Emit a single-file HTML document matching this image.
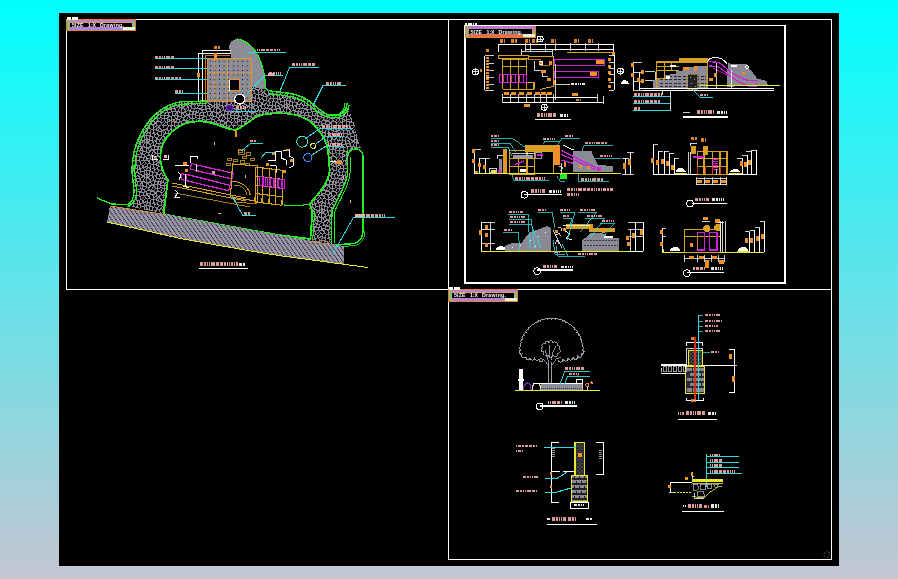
<!DOCTYPE html>
<html><head><meta charset="utf-8"><style>
html,body{margin:0;padding:0;width:898px;height:579px;overflow:hidden;}
body{background:linear-gradient(to bottom,#00ffff 0%,#64e2e9 50%,#c4c6d2 100%);font-family:"Liberation Sans",sans-serif;}
svg{display:block;position:absolute;left:0;top:0;will-change:transform;}
</style></head><body>
<svg width="898" height="579" viewBox="0 0 898 579" shape-rendering="crispEdges" font-family="Liberation Sans, sans-serif"><defs>
<pattern id="cob" width="35" height="35" patternUnits="userSpaceOnUse"><rect width="35" height="35" fill="#8a8694"/><path d="M-4.3,0.3 -3.9,0.8 -1.6,0.3 -0.8,-1.2 -3.5,-2.0ZM-1.6,2.8 -1.2,2.4 -1.7,1.3 -3.6,1.8 -3.4,3.0ZM-3.1,3.9 -3.5,4.3 -2.7,6.4 -2.2,6.5 -0.4,5.9 -0.7,3.8ZM-2.3,9.8 -1.4,10.4 -0.7,10.0 0.9,7.6 0.8,7.1 0.1,6.8 -1.9,7.4ZM-3.2,11.6 -2.8,13.6 0.2,13.3 -1.4,11.3 -2.6,11.1ZM-3.0,15.6 0.3,16.7 0.8,14.7 0.5,14.4 -2.7,14.5ZM-2.3,16.9 -2.8,17.2 -2.9,20.0 -1.6,20.3 -0.3,17.7ZM-3.1,21.2 -3.5,21.6 -3.4,24.2 -2.3,25.1 0.2,24.4 -0.7,21.7 -1.4,21.3ZM-2.5,28.0 -2.2,28.5 -0.8,28.5 -0.9,26.0 -2.1,26.1ZM-1.8,29.5 -2.2,29.8 -2.6,32.0 -0.5,32.8 0.2,31.7 -0.3,29.9ZM-4.3,35.3 -3.9,35.8 -1.6,35.3 -0.8,33.8 -3.5,33.0ZM0.4,-1.7 0.5,-1.2 3.3,0.6 4.5,-0.8 3.7,-3.1 1.1,-2.7ZM5.1,-3.7 4.8,-3.3 5.3,-1.5 6.5,-1.4 6.4,-3.7ZM7.8,-3.8 7.3,-3.5 7.6,-1.7 8.6,-1.4 9.0,-3.4ZM9.7,-1.2 10.3,-0.3 11.9,-0.2 12.6,-2.2 10.2,-3.4ZM16.6,-0.8 16.5,-1.4 14.3,-2.9 13.6,-2.2 12.9,0.3 13.4,0.6 15.4,0.4ZM18.0,-1.8 18.1,-1.3 19.4,-1.0 21.2,-2.0 21.7,-3.8 21.1,-4.3 19.1,-4.1ZM23.1,-3.2 22.5,-3.1 22.1,-1.7 23.6,0.1 24.2,-0.3 24.4,-2.4ZM26.9,-2.2 26.6,-2.6 25.4,-2.3 25.3,-0.2 27.0,0.0ZM27.9,-3.1 28.0,0.0 29.7,0.2 30.3,-2.2 28.5,-3.3ZM30.7,0.3 31.1,0.8 33.4,0.3 34.2,-1.2 31.5,-2.0ZM-0.2,2.7 0.3,2.9 2.3,1.3 0.2,-0.3 -0.7,0.8ZM1.8,6.6 2.5,6.3 4.0,2.7 3.5,1.9 0.5,4.0 0.6,5.9ZM2.0,8.7 1.3,8.5 0.6,9.7 0.7,10.1 2.3,10.3ZM0.7,11.1 0.3,11.7 1.6,12.6 2.0,11.5ZM2.3,14.5 1.8,14.8 1.5,16.6 3.1,17.6 4.6,16.1 4.2,15.4ZM-0.4,20.2 0.0,20.8 2.7,19.9 2.7,18.6 0.9,17.7ZM0.7,21.5 0.4,22.0 1.5,23.7 4.1,21.4 3.3,20.7ZM0.2,28.0 0.8,28.4 2.6,27.1 2.4,26.4 1.1,25.1 0.2,25.7ZM3.3,28.4 2.8,28.2 0.7,29.5 1.0,31.2 3.8,30.8ZM0.4,33.3 0.5,33.8 3.3,35.6 4.5,34.2 3.7,31.9 1.1,32.3ZM4.4,1.0 4.9,2.2 6.5,2.4 6.4,-0.4 5.3,-0.3ZM5.2,3.2 4.7,3.4 3.6,6.2 6.1,6.8 6.4,6.4 6.4,3.8ZM3.2,7.3 2.7,7.7 3.4,10.4 5.6,10.7 6.7,8.0ZM2.4,13.1 2.6,13.7 4.4,14.4 5.9,12.1 5.5,11.7 3.4,11.5ZM5.5,15.7 6.0,16.0 8.4,14.8 8.1,13.6 6.6,13.0 5.2,14.9ZM3.9,19.8 5.0,20.4 6.4,19.1 5.4,17.1 3.7,18.4ZM2.3,24.3 2.2,24.9 3.0,25.3 5.2,23.3 5.2,22.8 4.5,22.4ZM3.5,26.6 3.9,26.8 6.7,26.2 7.2,24.4 5.9,23.8 3.5,26.1ZM6.1,30.1 6.6,27.4 4.3,27.7 4.8,30.1ZM5.1,31.3 4.8,31.7 5.3,33.5 6.5,33.6 6.4,31.3ZM7.9,-0.5 7.5,-0.1 7.5,2.1 7.9,2.4 9.4,0.2 9.0,-0.4ZM7.6,3.5 7.3,3.8 7.3,6.9 7.7,7.3 10.1,6.1 9.8,5.0 8.4,3.5ZM10.5,7.6 10.0,7.4 8.5,8.3 10.3,10.5 11.6,9.9ZM6.8,11.8 8.3,12.5 9.3,11.2 7.8,9.1 7.3,9.3 6.5,11.0ZM6.7,16.6 6.5,17.1 7.4,18.4 9.9,17.4 10.2,16.3 9.1,15.5ZM7.9,19.1 7.8,19.8 9.0,20.7 10.2,18.8 9.7,18.5ZM5.5,21.1 5.4,21.6 6.3,22.8 7.8,23.7 8.7,23.3 8.7,21.8 7.0,20.3ZM7.8,26.2 8.0,26.7 9.9,27.6 10.7,24.5 9.3,24.1 8.4,24.5ZM9.1,30.5 9.6,30.3 9.9,29.0 7.8,27.8 7.3,30.0ZM7.8,31.2 7.3,31.5 7.6,33.3 8.6,33.6 9.0,31.6ZM10.5,0.6 9.1,2.7 10.2,3.9 12.6,1.4 12.1,0.8ZM10.9,4.7 11.3,5.8 13.4,5.0 12.7,3.0ZM11.6,6.6 11.3,7.2 12.8,10.0 13.3,10.1 14.0,6.4 13.6,6.2ZM9.6,14.5 10.7,14.9 12.9,11.5 12.8,11.1 10.2,11.6 9.1,13.2ZM11.7,15.0 11.7,15.5 12.2,15.6 14.9,13.6 14.9,13.1 13.6,12.2ZM14.6,18.3 14.5,17.6 12.0,16.6 11.1,16.8 11.2,18.5 12.7,19.6ZM12.6,23.5 13.0,23.0 12.5,20.7 10.9,19.7 9.6,21.7 9.7,23.1 11.4,23.6ZM10.9,28.1 11.2,28.6 13.4,28.1 13.4,25.0 13.0,24.4 11.7,24.7ZM14.1,29.5 13.7,29.1 11.1,29.5 10.6,30.5 13.2,31.8 14.0,31.1ZM10.5,31.6 9.9,31.9 9.7,34.0 10.3,34.7 11.9,34.8 12.6,32.7ZM13.9,1.5 13.5,2.0 14.3,4.6 14.8,4.9 16.2,2.7 15.4,1.4ZM17.3,6.4 17.8,6.3 18.8,4.3 17.2,3.5 15.7,5.4ZM15.5,6.5 14.9,6.8 14.6,8.9 14.9,9.4 17.4,8.3 17.2,7.4ZM14.4,10.6 14.2,11.2 16.2,13.0 16.8,12.9 17.2,9.8ZM17.1,15.6 17.0,14.4 16.0,13.9 13.5,16.0 15.7,17.1ZM13.6,21.7 14.2,22.0 16.4,20.6 15.8,18.8 15.4,18.8 13.5,20.4ZM15.7,24.4 17.7,21.9 17.6,21.4 17.1,21.3 13.8,23.4 14.1,24.2ZM16.0,25.3 14.4,25.5 14.7,28.6 16.8,28.4 17.7,26.8 17.5,26.1ZM16.9,29.4 15.0,29.8 14.9,31.2 17.1,32.7 18.0,30.5ZM15.3,35.5 16.6,33.8 14.3,32.1 13.6,32.8 12.9,35.3 13.3,35.6ZM19.3,3.2 19.8,2.8 18.9,0.1 17.4,-0.4 16.4,1.2 17.2,2.5ZM20.6,4.5 19.9,4.3 19.1,5.8 19.2,6.3 21.0,6.4ZM18.4,8.2 19.9,8.9 20.8,7.7 18.6,7.2ZM17.8,12.8 18.3,13.3 20.1,12.2 20.1,10.4 19.7,9.8 18.4,9.7ZM19.8,16.3 20.3,16.2 21.6,13.9 21.5,13.3 20.5,13.0 18.1,14.5 18.2,15.3ZM16.6,17.6 17.5,20.3 18.7,20.9 20.9,19.6 20.7,18.2 18.0,16.3ZM17.0,24.3 17.1,24.9 17.9,25.0 19.1,23.3 18.9,22.6 18.4,22.6ZM18.6,25.6 18.8,26.2 20.9,26.5 21.7,25.7 19.8,24.1ZM17.8,28.6 18.9,30.0 20.9,29.6 20.6,27.4 18.6,27.2ZM18.0,33.2 18.1,33.7 19.4,34.0 21.2,33.0 21.7,31.2 21.1,30.7 19.1,30.9ZM20.7,2.7 21.1,2.9 22.3,2.6 22.8,1.0 21.4,-0.9 19.9,-0.0ZM21.7,3.7 21.4,4.2 22.2,6.7 23.0,7.0 23.8,4.2 22.7,3.5ZM21.0,9.1 21.3,9.7 23.8,9.6 24.2,9.0 23.3,8.1 22.3,7.8ZM22.6,12.8 24.1,12.7 24.1,10.6 21.1,10.8 21.1,12.1ZM21.0,16.7 21.1,17.2 21.5,17.3 24.1,15.5 24.0,13.9 22.7,13.8ZM21.9,18.2 21.9,19.4 22.8,19.9 25.2,16.7 24.4,16.3ZM20.0,22.9 22.3,24.9 23.6,24.1 23.2,21.5 21.6,20.4 19.8,21.6ZM22.9,25.7 22.8,26.4 24.5,28.0 25.0,28.0 24.2,25.3ZM22.4,27.3 21.8,27.4 21.8,29.9 22.5,30.6 24.0,28.9ZM23.1,31.8 22.5,31.9 22.1,33.3 23.6,35.1 24.2,34.7 24.4,32.6ZM24.9,0.6 23.7,1.1 23.3,2.7 24.6,3.4 26.1,3.5 26.8,1.3ZM26.8,6.8 26.2,4.5 24.7,4.6 24.0,7.3 24.5,8.0ZM25.0,9.8 25.4,10.3 28.1,10.0 27.7,7.8 27.2,7.7 25.2,8.9ZM28.5,11.7 28.2,11.0 25.4,11.2 25.0,12.5 25.4,12.8 27.1,12.8ZM25.1,15.2 26.2,16.4 26.9,16.7 27.5,14.2 27.0,13.7 25.3,13.8ZM25.9,17.6 24.0,20.2 24.4,20.4 27.1,19.5 26.9,17.9ZM24.5,23.7 24.9,24.0 26.3,23.8 28.2,21.0 28.1,20.6 27.6,20.3 24.3,21.5ZM27.6,28.4 28.1,28.1 28.1,26.1 26.4,24.8 25.4,24.9 25.2,25.4 26.2,27.9ZM27.6,30.9 27.7,29.5 26.0,28.8 25.0,29.3 23.8,30.8 25.0,31.7 27.0,31.5ZM26.9,32.8 26.6,32.4 25.4,32.7 25.3,34.8 27.0,35.0ZM27.3,3.3 27.6,3.8 30.3,3.4 30.4,1.5 29.9,1.2 28.0,1.2ZM27.7,6.6 28.3,7.0 31.0,6.4 30.6,4.5 27.7,4.8ZM29.1,7.8 28.8,8.2 29.4,10.3 29.9,10.9 31.1,11.1 31.7,10.3 32.1,7.3ZM28.2,13.7 30.7,14.7 31.3,14.1 30.8,12.2 29.9,11.8 28.2,13.1ZM28.8,15.0 28.3,15.2 28.4,16.3 29.5,15.6ZM28.1,17.6 28.3,19.5 29.2,20.3 31.0,20.5 31.2,16.2 30.7,16.2ZM30.4,24.1 30.6,21.6 29.2,21.2 27.3,24.3 28.7,25.2ZM32.0,26.0 30.9,25.0 29.2,26.0 29.1,28.1 31.5,28.1ZM28.7,30.5 31.2,32.1 31.9,29.2 29.0,29.3ZM28.5,31.7 27.8,32.1 28.0,35.0 29.6,35.2 30.3,32.9ZM33.5,1.6 33.1,1.3 31.5,1.7 31.4,2.8 33.5,2.8ZM31.9,3.9 31.5,4.3 32.3,6.4 32.8,6.5 34.6,5.9 34.3,3.8ZM35.3,6.8 33.1,7.5 32.9,10.2 33.7,10.4 34.3,10.0 35.9,7.5ZM34.9,13.5 35.2,12.9 33.6,11.3 32.4,11.1 31.7,11.7 32.2,13.6ZM35.1,16.7 35.6,16.4 35.6,14.5 32.0,14.7 32.1,15.7ZM33.3,20.4 34.7,17.7 32.5,16.8 32.2,17.2 32.1,20.1ZM31.9,21.2 31.5,21.6 31.6,24.2 32.7,25.1 35.2,24.4 34.3,21.7 33.6,21.3ZM32.5,28.0 32.8,28.5 34.2,28.5 34.1,26.0 32.9,26.1ZM34.7,30.0 32.9,29.6 32.5,32.1 34.7,32.7 35.2,31.7ZM30.7,35.3 31.1,35.8 33.4,35.3 34.2,33.8 31.5,33.0ZM-0.2,37.7 0.3,37.9 2.3,36.3 0.2,34.7 -0.7,35.8ZM6.6,35.0 6.2,34.6 5.2,34.8 4.4,36.2 4.9,37.1 6.5,37.4ZM7.9,34.5 7.5,34.9 7.5,37.1 7.9,37.4 9.4,35.2 9.0,34.6ZM12.5,36.7 12.1,35.8 10.3,35.7 9.1,37.9 10.4,38.9ZM13.9,36.5 13.5,37.0 14.3,39.6 14.8,39.9 16.2,37.7 15.4,36.4ZM17.1,37.4 19.3,38.2 19.7,38.0 18.8,35.0 17.5,34.6 16.4,35.8ZM20.7,37.7 21.1,37.9 22.3,37.6 22.8,36.0 21.4,34.1 19.9,35.0ZM24.9,35.6 23.7,36.1 23.3,37.7 24.6,38.4 26.1,38.5 26.8,36.3ZM27.3,38.3 27.6,38.8 30.3,38.4 30.4,36.5 29.9,36.2 28.0,36.2ZM33.5,36.6 33.1,36.3 31.5,36.7 31.4,37.8 33.5,37.8ZM35.4,-1.7 35.5,-1.2 38.3,0.6 39.5,-0.8 38.7,-3.1 36.1,-2.7ZM35.4,-0.2 34.8,-0.2 34.3,0.8 35.1,3.0 37.3,1.3ZM36.8,6.6 37.5,6.3 39.0,2.7 38.5,1.9 35.5,4.0 35.6,5.9ZM37.0,8.7 36.3,8.5 35.6,9.7 35.7,10.1 37.3,10.3ZM35.7,11.1 35.3,11.7 36.6,12.6 37.0,11.5ZM37.3,14.5 36.8,14.8 36.5,16.6 38.1,17.6 39.6,16.1 39.2,15.4ZM34.6,20.2 35.0,20.8 37.7,19.9 37.7,18.6 35.9,17.7ZM36.1,23.5 36.7,23.6 39.0,21.7 39.0,21.1 38.2,20.7 35.6,21.6ZM35.2,28.0 35.8,28.4 37.6,27.1 37.4,26.4 36.1,25.1 35.2,25.7ZM38.1,28.2 35.6,29.9 36.1,31.3 38.9,30.8ZM35.4,33.3 35.5,33.8 38.3,35.6 39.5,34.2 38.7,31.9 36.1,32.3ZM34.8,37.7 35.3,37.9 37.3,36.3 35.2,34.7 34.3,35.8Z" fill="#000"/></pattern>
<pattern id="hatch" width="4.2" height="6" patternUnits="userSpaceOnUse"><rect width="4.2" height="6" fill="#9e9aac"/><line x1="0" y1="0" x2="4.2" y2="6" stroke="#000" stroke-width="1.1" stroke-dasharray="1.1 0.73" shape-rendering="auto"/></pattern>
<pattern id="paved" width="4.6" height="4.6" patternUnits="userSpaceOnUse" x="208" y="59"><rect width="4.6" height="4.6" fill="#8c8c96"/><rect x="1.7" y="1.7" width="1.3" height="1.3" fill="#000"/></pattern>
<pattern id="hatch2" width="2.5" height="2.5" patternUnits="userSpaceOnUse" patternTransform="rotate(45)"><rect width="2.5" height="2.5" fill="#555558"/><line x1="0" y1="0" x2="0" y2="2.5" stroke="#111" stroke-width="1"/><line x1="0" y1="0" x2="2.5" y2="0" stroke="#111" stroke-width="0.6"/></pattern>
</defs><rect x="59" y="13" width="780" height="553" stroke="none" fill="#000" stroke-width="1" />
<line x1="66.5" y1="19.5" x2="831.5" y2="19.5" stroke="#ffffff" stroke-width="1" />
<line x1="66.5" y1="19.5" x2="66.5" y2="289.5" stroke="#ffffff" stroke-width="1" />
<line x1="66" y1="289.5" x2="832" y2="289.5" stroke="#ffffff" stroke-width="1" />
<line x1="448.5" y1="19.5" x2="448.5" y2="559.5" stroke="#ffffff" stroke-width="1" />
<line x1="831.5" y1="19.5" x2="831.5" y2="559.5" stroke="#ffffff" stroke-width="1" />
<line x1="448" y1="559.5" x2="832" y2="559.5" stroke="#ffffff" stroke-width="1" />
<line x1="465" y1="25" x2="465" y2="284" stroke="#ffffff" stroke-width="2" />
<line x1="785" y1="25" x2="785" y2="284" stroke="#ffffff" stroke-width="2" />
<line x1="464" y1="25.5" x2="786" y2="25.5" stroke="#ffffff" stroke-width="1" />
<line x1="464" y1="283" x2="786" y2="283" stroke="#ffffff" stroke-width="2" />
<circle cx="826.8" cy="554.6" r="3" stroke="#303030" fill="none" stroke-width="0.8"/>
<rect x="66" y="19.2" width="69.5" height="11.4" stroke="none" fill="#e08030" stroke-width="1" />
<rect x="66.8" y="20.0" width="67.9" height="9.8" stroke="none" fill="#90b880" stroke-width="1" />
<rect x="70" y="20.099999999999998" width="64.5" height="2.2" stroke="none" fill="#c080cc" stroke-width="1" />
<rect x="70" y="27.400000000000002" width="53.5" height="2.3" stroke="none" fill="#b084d4" stroke-width="1" />
<rect x="69.8" y="22.4" width="62.5" height="5.0" stroke="none" fill="#d8a060" stroke-width="1" />
<rect x="70.2" y="23.0" width="61.5" height="3.8000000000000007" stroke="none" fill="#000" stroke-width="1" />
<text x="72" y="26.8" fill="#fff" font-size="5.2" font-weight="bold" letter-spacing="0.2">5IZE</text>
<text x="88" y="26.8" fill="#fff" font-size="5.2" font-weight="bold">1:X</text>
<text x="100" y="26.8" fill="#fff" font-size="5.2" font-weight="bold" letter-spacing="0.3">Drawing.</text>
<rect x="122.5" y="27.0" width="12" height="2.8" stroke="none" fill="#e8f4e0" stroke-width="1" />
<line x1="66.8" y1="18.599999999999998" x2="78.5" y2="18.599999999999998" stroke="#f4fff0" stroke-width="3" stroke-dasharray="2 0.6 1.6 0.6 2.2 0.5 1.5 0.6"/>
<rect x="464.5" y="25.5" width="71" height="12.1" stroke="none" fill="#e08030" stroke-width="1" />
<rect x="465.3" y="26.3" width="69.4" height="10.5" stroke="none" fill="#b0a070" stroke-width="1" />
<rect x="468.5" y="26.4" width="66" height="2.2" stroke="none" fill="#b878cc" stroke-width="1" />
<rect x="468.5" y="34.4" width="55" height="2.3" stroke="none" fill="#e07050" stroke-width="1" />
<rect x="468.3" y="28.7" width="64" height="5.699999999999999" stroke="none" fill="#d09050" stroke-width="1" />
<rect x="468.7" y="29.3" width="63" height="4.5" stroke="none" fill="#000" stroke-width="1" />
<text x="470.5" y="33.5" fill="#fff" font-size="5.2" font-weight="bold" letter-spacing="0.2">5IZE</text>
<text x="486.5" y="33.5" fill="#fff" font-size="5.2" font-weight="bold">1:X</text>
<text x="498.5" y="33.5" fill="#fff" font-size="5.2" font-weight="bold" letter-spacing="0.3">Drawing.</text>
<rect x="522.5" y="34.0" width="12" height="2.8" stroke="none" fill="#e8f4e0" stroke-width="1" />
<line x1="465.3" y1="24.9" x2="477.0" y2="24.9" stroke="#f4fff0" stroke-width="3" stroke-dasharray="2 0.6 1.6 0.6 2.2 0.5 1.5 0.6"/>
<rect x="448" y="289" width="69.5" height="12.5" stroke="none" fill="#e08030" stroke-width="1" />
<rect x="448.8" y="289.8" width="67.9" height="10.9" stroke="none" fill="#90b880" stroke-width="1" />
<rect x="452" y="289.9" width="64.5" height="2.2" stroke="none" fill="#c080cc" stroke-width="1" />
<rect x="452" y="298.3" width="53.5" height="2.3" stroke="none" fill="#b084d4" stroke-width="1" />
<rect x="451.8" y="292.2" width="62.5" height="6.1" stroke="none" fill="#d8a060" stroke-width="1" />
<rect x="452.2" y="292.8" width="61.5" height="4.9" stroke="none" fill="#000" stroke-width="1" />
<text x="454" y="297.1" fill="#fff" font-size="5.2" font-weight="bold" letter-spacing="0.2">5IZE</text>
<text x="470" y="297.1" fill="#fff" font-size="5.2" font-weight="bold">1:X</text>
<text x="482" y="297.1" fill="#fff" font-size="5.2" font-weight="bold" letter-spacing="0.3">Drawing.</text>
<rect x="504.5" y="297.9" width="12" height="2.8" stroke="none" fill="#e8f4e0" stroke-width="1" />
<line x1="448.8" y1="288.4" x2="460.5" y2="288.4" stroke="#f4fff0" stroke-width="3" stroke-dasharray="2 0.6 1.6 0.6 2.2 0.5 1.5 0.6"/>
<path d="M229,47 C229,43 233,39 237,39 C245,40 252,46 256,52 C261,60 264,70 265,80 L266,89 L258,89 L250,93 L244,97 L236,97 L232,60 Z" stroke="none" fill="#8c8c96" stroke-width="1" />
<path d="M237,39 C245,40 252,46 256,52 C261,60 264,70 265,80 L265.5,86 C266,90 268,91 270,91" stroke="#22ee22" fill="none" stroke-width="1.2" />
<path d="M126.7,204.8 C131,203 134,199 134,192 C134,185 132,178 132,171 C132,135 155,103 185,101.5 L207,101 L240,97 L252,87 L265,89 L270,91 C285,93 300,92 314,105 C320,110 325,115 328,115 L340,115 C344,112 347,108 347,104 L350,113 L355,126 L358,141 L361,148 L348,150 L347.7,172 C347.5,185 336,200 332,211 L331.5,246 L310,241 L166,214 L126.7,206 Z" stroke="none" fill="url(#cob)" stroke-width="1" />
<path d="M97,198 L111.6,203.9 L126.7,204.8 C131,203 134,199 134,192 C134,185 132,178 132,171 C132,135 155,103 185,101.5 L207,101" stroke="#22ee22" fill="none" stroke-width="1.3" />
<path d="M127,207 C133,205 136.5,199 136.5,192 C136.5,185 134.8,178 134.8,171 C134.8,137 157,105.5 185,104 L207,103.5" stroke="#22ee22" fill="none" stroke-width="1.2" />
<path d="M270,91 C285,93 300,92 314,105 C320,110 325,115 330,115 L338,115 C344,113 347,109 347,103" stroke="#22ee22" fill="none" stroke-width="1.5" />
<path d="M268,93.5 C284,95.5 298,95 312,107.5 C318,112.5 324,117.5 330,117.5 L338,117.5 C345,115.5 349,111 349,105" stroke="#22ee22" fill="none" stroke-width="1.2" />
<path d="M344,103 C345,107 344,111 340,113" stroke="#22ee22" fill="none" stroke-width="1" />
<path d="M347.7,150 L347.7,172 C347.5,185 336,200 332,211 L331.5,244" stroke="#22ee22" fill="none" stroke-width="1.2" />
<path d="M350.2,157 L350.2,172 C350,186 338.5,201 334.5,212 L334,244" stroke="#22ee22" fill="none" stroke-width="1" />
<path d="M314.6,211 L312.8,239" stroke="#22ee22" fill="none" stroke-width="1" />
<path d="M297,208 C303,207.5 307,207 311,206" stroke="#22ee22" fill="none" stroke-width="1" />
<path d="M333,245 L355,243.5 C360,241 363,236 363,231 L363,157 C363,152 360,149 355.5,149 C351,149 347.5,152 347.5,157" stroke="#22ee22" fill="none" stroke-width="1.5" />
<path d="M335,247 L356,245.5 C362,243 365,237 365,231" stroke="#22ee22" fill="none" stroke-width="0.8" />
<path d="M160.3,157 C160.3,138 178,120 201.5,121.4 C218,122.5 226,130 234.6,129.7 C245,129 252,114 268,114 C285,112 305,114 316,127 C322,134 327,142 328,150 L329.7,170 C329,180 322,190 313.8,199 L309.7,204 L312.4,211.4 L310.4,239 L280,235.2 L250,230 L163.5,214.3 L167.9,180 C164,174 160.3,166 160.3,157 Z" stroke="#22ee22" fill="#000" stroke-width="1.8" />
<path d="M309.7,204 C300,206 290,206 284,205" stroke="#22ee22" fill="none" stroke-width="1.2" />
<path d="M110,205.7 L164,214 L250,230 L280,235.2 L310,240.5 L344,246 L344,264 L290,257.4 L280,255.7 L180,238.4 L107,222 Z" stroke="none" fill="url(#hatch)" stroke-width="1" />
<path d="M110,206 L164,214.3" stroke="#f0902a" fill="none" stroke-width="0.8" />
<path d="M311,241.5 L330,244" stroke="#f0902a" fill="none" stroke-width="0.8" />
<path d="M107,222 C130,227 160,234 180,238.4 C215,245 250,251 280,255.7 C310,260 340,264 368,267.5" stroke="#e8e830" fill="none" stroke-width="1" />
<rect x="207" y="58" width="44" height="43" stroke="none" fill="url(#paved)" stroke-width="1" />
<rect x="207" y="58" width="44" height="43" stroke="#f0902a" fill="none" stroke-width="1" />
<line x1="214.4" y1="58" x2="214.4" y2="101" stroke="#f0902a" stroke-width="1" stroke-dasharray="3 1.5"/>
<line x1="227.4" y1="58" x2="227.4" y2="101" stroke="#f0902a" stroke-width="1" stroke-dasharray="3 1.5"/>
<line x1="207" y1="72.5" x2="251" y2="72.5" stroke="#f0902a" stroke-width="1" stroke-dasharray="3 1.5"/>
<line x1="207" y1="86" x2="251" y2="86" stroke="#f0902a" stroke-width="0.6" stroke-dasharray="2 2"/>
<rect x="229.3" y="79.7" width="9.7" height="11" stroke="#f0902a" fill="#000" stroke-width="1" />
<line x1="229.3" y1="79.7" x2="229.3" y2="90.7" stroke="#ffffff" stroke-width="1" />
<circle cx="239.8" cy="99.1" r="5" stroke="#ffffff" fill="#000" stroke-width="1.2"/>
<circle cx="229.5" cy="108" r="3" stroke="#7020c0" fill="#401080" stroke-width="1"/>
<line x1="231" y1="111" x2="258" y2="111" stroke="#2fd8e0" stroke-width="1" />
<line x1="236" y1="107" x2="246" y2="107" stroke="#f4aaa8" stroke-width="3.0" stroke-dasharray="1.6 0.7 1 0.6 2 0.8" stroke-opacity="0.9"/>
<polyline points="198.2,101 198.2,53.1 230.6,53.1" stroke="#ffffff" stroke-width="1" fill="none" />
<polyline points="202,101 202,50.5 230.6,50.5" stroke="#ffffff" stroke-width="1" fill="none" />
<polyline points="205,101 205,55.5 230,55.5" stroke="#f0902a" stroke-width="0.8" fill="none" />
<rect x="197" y="73" width="3" height="4" stroke="none" fill="#f0902a" stroke-width="1" />
<line x1="214" y1="47" x2="220" y2="47" stroke="#f0902a" stroke-width="3" stroke-dasharray="1.6 0.7 1 0.6 2 0.8" stroke-opacity="0.9"/>
<rect x="214" y="53" width="3" height="7" stroke="none" fill="#f0902a" stroke-width="1" />
<line x1="155" y1="58.7" x2="207" y2="58.7" stroke="#2fd8e0" stroke-width="1" />
<line x1="155" y1="56.900000000000006" x2="175" y2="56.900000000000006" stroke="#f4aaa8" stroke-width="2.75" stroke-dasharray="1.6 0.7 1 0.6 2 0.8" stroke-opacity="0.9"/>
<line x1="155" y1="68.8" x2="207" y2="68.8" stroke="#2fd8e0" stroke-width="1" />
<line x1="155" y1="67.0" x2="175" y2="67.0" stroke="#f4aaa8" stroke-width="2.75" stroke-dasharray="1.6 0.7 1 0.6 2 0.8" stroke-opacity="0.9"/>
<line x1="155" y1="79.8" x2="207" y2="79.8" stroke="#2fd8e0" stroke-width="1" />
<line x1="155" y1="78.0" x2="181" y2="78.0" stroke="#f4aaa8" stroke-width="2.75" stroke-dasharray="1.6 0.7 1 0.6 2 0.8" stroke-opacity="0.9"/>
<line x1="175" y1="93.3" x2="207" y2="93.3" stroke="#2fd8e0" stroke-width="1" />
<line x1="175" y1="91.5" x2="183" y2="91.5" stroke="#f4aaa8" stroke-width="2.75" stroke-dasharray="1.6 0.7 1 0.6 2 0.8" stroke-opacity="0.9"/>
<line x1="247" y1="52.3" x2="286" y2="52.3" stroke="#2fd8e0" stroke-width="1" />
<line x1="256.7" y1="50" x2="280.7" y2="50" stroke="#f4aaa8" stroke-width="2.75" stroke-dasharray="1.6 0.7 1 0.6 2 0.8" stroke-opacity="0.9"/>
<polyline points="247,94 264.7,75.6 282.5,75.6" stroke="#2fd8e0" stroke-width="1" fill="none" />
<line x1="269" y1="73.3" x2="281" y2="73.3" stroke="#f4aaa8" stroke-width="2.75" stroke-dasharray="1.6 0.7 1 0.6 2 0.8" stroke-opacity="0.9"/>
<rect x="268" y="73" width="6" height="2.5" stroke="none" fill="#f4aaa8" stroke-width="1" />
<polyline points="280,91 289.7,67 318.7,67" stroke="#2fd8e0" stroke-width="1" fill="none" />
<line x1="292" y1="64.7" x2="316" y2="64.7" stroke="#f4aaa8" stroke-width="2.75" stroke-dasharray="1.6 0.7 1 0.6 2 0.8" stroke-opacity="0.9"/>
<polyline points="313.2,105 322.9,85.6 346.4,85.6" stroke="#2fd8e0" stroke-width="1" fill="none" />
<line x1="326" y1="83.3" x2="342" y2="83.3" stroke="#f4aaa8" stroke-width="2.75" stroke-dasharray="1.6 0.7 1 0.6 2 0.8" stroke-opacity="0.9"/>
<line x1="320" y1="128.4" x2="353.3" y2="128.4" stroke="#2fd8e0" stroke-width="1" />
<line x1="322" y1="126.2" x2="351.3" y2="126.2" stroke="#f4aaa8" stroke-width="2.75" stroke-dasharray="1.6 0.7 1 0.6 2 0.8" stroke-opacity="0.9"/>
<line x1="325.6" y1="136.7" x2="343.6" y2="136.7" stroke="#2fd8e0" stroke-width="1" />
<line x1="327.6" y1="134.5" x2="341.6" y2="134.5" stroke="#f4aaa8" stroke-width="2.75" stroke-dasharray="1.6 0.7 1 0.6 2 0.8" stroke-opacity="0.9"/>
<line x1="325.6" y1="146.4" x2="343.6" y2="146.4" stroke="#2fd8e0" stroke-width="1" />
<line x1="327.6" y1="144.20000000000002" x2="341.6" y2="144.20000000000002" stroke="#f4aaa8" stroke-width="2.75" stroke-dasharray="1.6 0.7 1 0.6 2 0.8" stroke-opacity="0.9"/>
<circle cx="302.2" cy="141.7" r="5.5" stroke="#40e0c0" fill="none" stroke-width="1"/>
<polyline points="305,139 320,128.4" stroke="#2fd8e0" stroke-width="1" fill="none" />
<circle cx="313.2" cy="145.8" r="2.5" stroke="#e8e830" fill="none" stroke-width="1"/>
<polyline points="315,144.5 325.6,136.7" stroke="#2fd8e0" stroke-width="1" fill="none" />
<circle cx="307.7" cy="157.4" r="4" stroke="#3090ff" fill="none" stroke-width="1"/>
<polyline points="311,155.5 325.6,146.4" stroke="#2fd8e0" stroke-width="1" fill="none" />
<rect x="335" y="161" width="7" height="2.5" stroke="none" fill="#f0902a" stroke-width="1" />
<line x1="330" y1="161.5" x2="336" y2="161.5" stroke="#ffffff" stroke-width="1" />
<text x="172.5" y="123.5" fill="#f0902a" font-size="7" >*</text>
<polyline points="152.5,154.5 152.5,159.5 157.5,159.5" stroke="#ffffff" stroke-width="1.2" fill="none" />
<rect x="153.5" y="155.5" width="2" height="2" stroke="none" fill="#f4aaa8" stroke-width="1" />
<polyline points="168.8,154.5 168.8,159.5 163,159.5" stroke="#ffffff" stroke-width="1.2" fill="none" />
<rect x="164" y="155" width="2.5" height="2.5" stroke="none" fill="#f4aaa8" stroke-width="1" />
<line x1="197.5" y1="165.1" x2="233.3" y2="173.3" stroke="#d020d8" stroke-width="1.3" />
<line x1="196" y1="170.6" x2="231.5" y2="178.8" stroke="#d020d8" stroke-width="1.3" />
<line x1="186.7" y1="174.4" x2="229.9" y2="185.3" stroke="#d020d8" stroke-width="1.3" />
<line x1="186.7" y1="180.7" x2="228.7" y2="190.8" stroke="#d020d8" stroke-width="1.3" />
<line x1="233.3" y1="173.3" x2="228.7" y2="190.8" stroke="#d020d8" stroke-width="1.3" />
<polygon points="191.3,163.6 197.5,165.1 196,170.6 190.5,169" stroke="#d020d8" stroke-width="1.1" fill="none" />
<polygon points="181.2,173.7 186.7,174.4 186.7,180.7 181.2,179.5" stroke="#d020d8" stroke-width="1.1" fill="none" />
<line x1="212" y1="172" x2="214.5" y2="172" stroke="#f4aaa8" stroke-width="3" stroke-dasharray="1.6 0.7 1 0.6 2 0.8" stroke-opacity="0.9"/>
<polyline points="172,183 246,198" stroke="#d8a020" stroke-width="1" fill="none" />
<polyline points="172,186 246,201" stroke="#d8a020" stroke-width="1" fill="none" />
<polyline points="175,193 250,207" stroke="#d8a020" stroke-width="0.8" fill="none" />
<polyline points="190.6,162.8 190.6,156.6 197.5,156.6 197.5,158.5" stroke="#ffffff" stroke-width="1" fill="none" />
<polyline points="175,165.1 183,165.1 189,166" stroke="#ffffff" stroke-width="1" fill="none" />
<polyline points="185.1,173.7 185.1,186 182.8,186 189,187.7" stroke="#ffffff" stroke-width="1" fill="none" />
<polyline points="178,172 181,175 179,180" stroke="#ffffff" stroke-width="1" fill="none" />
<polyline points="196.5,164 196.5,171 196,172" stroke="#ffffff" stroke-width="0.8" fill="none" />
<rect x="183" y="162" width="4" height="3" stroke="none" fill="#f0902a" stroke-width="1" />
<rect x="184.5" y="169" width="3" height="3" stroke="none" fill="#f0902a" stroke-width="1" />
<polyline points="175,190 178,193 175,197 180,197" stroke="#ffffff" stroke-width="1" fill="none" />
<line x1="255.5" y1="167.06" x2="255.0" y2="202.0" stroke="#d8a020" stroke-width="1.1" />
<line x1="262.5" y1="167.9" x2="262.0" y2="202.84" stroke="#d8a020" stroke-width="1.1" />
<line x1="269.5" y1="168.74" x2="269.0" y2="203.68" stroke="#d8a020" stroke-width="1.1" />
<line x1="276" y1="169.52" x2="275.5" y2="204.46" stroke="#d8a020" stroke-width="1.1" />
<line x1="282.5" y1="170.3" x2="282.0" y2="205.24" stroke="#d8a020" stroke-width="1.1" />
<line x1="255.5" y1="167.06" x2="282.5" y2="170.3" stroke="#d8a020" stroke-width="1.1" />
<line x1="255.5" y1="176.06" x2="282.5" y2="179.3" stroke="#d8a020" stroke-width="1.1" />
<line x1="255.5" y1="185.06" x2="282.5" y2="188.3" stroke="#d8a020" stroke-width="1.1" />
<line x1="255.5" y1="193.56" x2="282.5" y2="196.8" stroke="#d8a020" stroke-width="1.1" />
<line x1="255.5" y1="202.06" x2="282.5" y2="205.3" stroke="#d8a020" stroke-width="1.1" />
<rect x="259.5" y="176.8" width="2.6" height="9" stroke="#d020d8" fill="none" stroke-width="1" />
<rect x="263.3" y="177.3" width="2.6" height="9" stroke="#d020d8" fill="none" stroke-width="1" />
<rect x="267.1" y="177.8" width="2.6" height="9" stroke="#d020d8" fill="none" stroke-width="1" />
<rect x="270.9" y="178.2" width="2.6" height="9" stroke="#d020d8" fill="none" stroke-width="1" />
<rect x="274.7" y="178.7" width="2.6" height="9" stroke="#d020d8" fill="none" stroke-width="1" />
<rect x="278.5" y="179.1" width="2.6" height="9" stroke="#d020d8" fill="none" stroke-width="1" />
<rect x="282.3" y="179.6" width="2.6" height="9" stroke="#d020d8" fill="none" stroke-width="1" />
<polygon points="232.5,163.9 257.4,166 257.4,201.2 230.5,197" stroke="#d8a020" stroke-width="1.1" fill="none" />
<path d="M231.5,181.5 C241,181 249,187 250.2,195" stroke="#d8a020" fill="none" stroke-width="1.1" />
<path d="M234,185 C241,185 246,189 247,195" stroke="#d8a020" fill="none" stroke-width="0.8" />
<polyline points="230.5,197 236,202 257.4,204" stroke="#d8a020" stroke-width="0.8" fill="none" />
<rect x="238" y="150" width="4" height="2.8" stroke="#d8a020" fill="none" stroke-width="0.8" />
<rect x="242" y="156" width="4" height="2.8" stroke="#d8a020" fill="none" stroke-width="0.8" />
<rect x="246" y="152.5" width="4" height="2.8" stroke="#d8a020" fill="none" stroke-width="0.8" />
<rect x="227" y="158" width="4" height="2.8" stroke="#d8a020" fill="none" stroke-width="0.8" />
<rect x="233" y="159" width="4" height="2.8" stroke="#d8a020" fill="none" stroke-width="0.8" />
<rect x="240" y="160.5" width="4" height="2.8" stroke="#d8a020" fill="none" stroke-width="0.8" />
<rect x="250" y="158" width="4" height="2.8" stroke="#d8a020" fill="none" stroke-width="0.8" />
<rect x="226" y="163" width="4" height="2.8" stroke="#d8a020" fill="none" stroke-width="0.8" />
<rect x="245" y="163" width="4" height="2.8" stroke="#d8a020" fill="none" stroke-width="0.8" />
<rect x="238.5" y="149" width="5.5" height="5" stroke="#d8a020" fill="none" stroke-width="0.8" />
<polyline points="268,160 275,160 275,151 281,151 281,158 286,160 286,165" stroke="#ffffff" stroke-width="1" fill="none" />
<polyline points="283,151 289,150 289,156 293,158 293,166 289,168" stroke="#ffffff" stroke-width="1" fill="none" />
<polyline points="270,165 276,166 276,172" stroke="#ffffff" stroke-width="1" fill="none" />
<rect x="286" y="149" width="2.5" height="2" stroke="none" fill="#f0902a" stroke-width="1" />
<rect x="290" y="159" width="2.5" height="2.5" stroke="none" fill="#f0902a" stroke-width="1" />
<rect x="266" y="163" width="2.5" height="2.5" stroke="none" fill="#f0902a" stroke-width="1" />
<rect x="283" y="170" width="2.5" height="2.5" stroke="none" fill="#f0902a" stroke-width="1" />
<rect x="272" y="153" width="2.5" height="2" stroke="none" fill="#f0902a" stroke-width="1" />
<polyline points="241.9,150.4 251.2,143.2 262.6,143.2" stroke="#2fd8e0" stroke-width="1" fill="none" />
<line x1="250" y1="141" x2="257" y2="141" stroke="#f4aaa8" stroke-width="2.75" stroke-dasharray="1.6 0.7 1 0.6 2 0.8" stroke-opacity="0.9"/>
<polyline points="261,158 266,152 275,152" stroke="#2fd8e0" stroke-width="1" fill="none" />
<polyline points="231.5,195 242.9,215.7 256.4,215.7" stroke="#2fd8e0" stroke-width="1" fill="none" />
<line x1="244" y1="213.5" x2="250" y2="213.5" stroke="#f4aaa8" stroke-width="2.75" stroke-dasharray="1.6 0.7 1 0.6 2 0.8" stroke-opacity="0.9"/>
<rect x="213.5" y="141.5" width="1" height="3" stroke="none" fill="#f4aaa8" stroke-width="1" />
<rect x="244.5" y="174.5" width="1" height="3" stroke="none" fill="#f4aaa8" stroke-width="1" />
<rect x="234.5" y="129.5" width="2.5" height="7" stroke="none" fill="#f0902a" stroke-width="1" />
<rect x="217.5" y="212.5" width="3" height="1.5" stroke="none" fill="#f4aaa8" stroke-width="1" />
<rect x="343" y="176" width="1" height="2.5" stroke="none" fill="#f4aaa8" stroke-width="1" />
<text x="308.5" y="212" fill="#f0902a" font-size="7" >*</text>
<polyline points="333,253.6 353.6,217.3 394.7,217.3" stroke="#2fd8e0" stroke-width="1" fill="none" />
<line x1="355" y1="215" x2="385" y2="215" stroke="#f4aaa8" stroke-width="3.0" stroke-dasharray="1.6 0.7 1 0.6 2 0.8" stroke-opacity="0.9"/>
<rect x="355" y="214" width="10" height="2.6" stroke="none" fill="#f4aaa8" stroke-width="1" />
<rect x="349.5" y="200" width="1" height="3" stroke="none" fill="#f4aaa8" stroke-width="1" />
<line x1="200" y1="264" x2="238" y2="264" stroke="#f4aaa8" stroke-width="4.2" stroke-dasharray="1.6 0.7 1 0.6 2 0.8" stroke-opacity="0.9"/>
<line x1="239" y1="264.6" x2="246" y2="264.6" stroke="#ffffff" stroke-width="2.75" stroke-dasharray="1.6 0.7 1 0.6 2 0.8" stroke-opacity="0.9"/>
<line x1="198.7" y1="268.7" x2="248.2" y2="268.7" stroke="#ffffff" stroke-width="1.5" />
<line x1="498.4" y1="44" x2="613.3" y2="44" stroke="#ffffff" stroke-width="1" />
<line x1="525" y1="49" x2="613.3" y2="49" stroke="#ffffff" stroke-width="1" />
<line x1="498.4" y1="44" x2="498.4" y2="52" stroke="#ffffff" stroke-width="1" />
<line x1="613.3" y1="44" x2="613.3" y2="56" stroke="#ffffff" stroke-width="1" />
<line x1="525" y1="42.5" x2="525" y2="50.5" stroke="#ffffff" stroke-width="0.8" />
<line x1="530" y1="42.5" x2="530" y2="50.5" stroke="#ffffff" stroke-width="0.8" />
<line x1="545" y1="42.5" x2="545" y2="50.5" stroke="#ffffff" stroke-width="0.8" />
<line x1="555" y1="42.5" x2="555" y2="50.5" stroke="#ffffff" stroke-width="0.8" />
<line x1="570" y1="42.5" x2="570" y2="50.5" stroke="#ffffff" stroke-width="0.8" />
<line x1="585" y1="42.5" x2="585" y2="50.5" stroke="#ffffff" stroke-width="0.8" />
<line x1="598" y1="42.5" x2="598" y2="50.5" stroke="#ffffff" stroke-width="0.8" />
<line x1="521" y1="51" x2="552" y2="51" stroke="#ffffff" stroke-width="0.8" />
<line x1="521" y1="49" x2="521" y2="56" stroke="#ffffff" stroke-width="0.8" />
<line x1="552" y1="49" x2="552" y2="56" stroke="#ffffff" stroke-width="0.8" />
<line x1="567.2" y1="52.5" x2="613.3" y2="52.5" stroke="#d8a020" stroke-width="1.2" />
<line x1="500" y1="41" x2="505" y2="41" stroke="#f0902a" stroke-width="3.125" stroke-dasharray="1.6 0.7 1 0.6 2 0.8" stroke-opacity="0.9"/>
<line x1="511" y1="41" x2="517" y2="41" stroke="#f0902a" stroke-width="3.125" stroke-dasharray="1.6 0.7 1 0.6 2 0.8" stroke-opacity="0.9"/>
<line x1="525" y1="41" x2="530" y2="41" stroke="#f0902a" stroke-width="3.125" stroke-dasharray="1.6 0.7 1 0.6 2 0.8" stroke-opacity="0.9"/>
<line x1="532" y1="41" x2="538" y2="41" stroke="#f0902a" stroke-width="3.125" stroke-dasharray="1.6 0.7 1 0.6 2 0.8" stroke-opacity="0.9"/>
<line x1="551" y1="41" x2="556" y2="41" stroke="#f0902a" stroke-width="3.125" stroke-dasharray="1.6 0.7 1 0.6 2 0.8" stroke-opacity="0.9"/>
<line x1="574" y1="41" x2="579" y2="41" stroke="#f0902a" stroke-width="3.125" stroke-dasharray="1.6 0.7 1 0.6 2 0.8" stroke-opacity="0.9"/>
<line x1="588" y1="41" x2="593" y2="41" stroke="#f0902a" stroke-width="3.125" stroke-dasharray="1.6 0.7 1 0.6 2 0.8" stroke-opacity="0.9"/>
<rect x="498.4" y="55.5" width="30" height="3" stroke="#d8a020" fill="none" stroke-width="1" />
<polyline points="528,56 553.4,56 553.4,86.4 540,89.4" stroke="#d8a020" stroke-width="1" fill="none" />
<polyline points="528,59 540,59 540,65 550,65" stroke="#d8a020" stroke-width="0.8" fill="none" />
<line x1="502.6" y1="58.6" x2="502.6" y2="89.4" stroke="#d8a020" stroke-width="1.2" />
<line x1="510.5" y1="58.6" x2="510.5" y2="89.4" stroke="#d8a020" stroke-width="1.2" />
<line x1="518.5" y1="58.6" x2="518.5" y2="89.4" stroke="#d8a020" stroke-width="1.2" />
<line x1="526.8" y1="58.6" x2="526.8" y2="89.4" stroke="#d8a020" stroke-width="1.2" />
<line x1="502.6" y1="59.2" x2="526.8" y2="59.2" stroke="#d8a020" stroke-width="1.2" />
<line x1="502.6" y1="66.4" x2="526.8" y2="66.4" stroke="#d8a020" stroke-width="1.2" />
<line x1="502.6" y1="74.3" x2="526.8" y2="74.3" stroke="#d8a020" stroke-width="1.2" />
<line x1="502.6" y1="82.1" x2="526.8" y2="82.1" stroke="#d8a020" stroke-width="1.2" />
<line x1="502.6" y1="89.4" x2="526.8" y2="89.4" stroke="#d8a020" stroke-width="1.2" />
<line x1="526.8" y1="82.1" x2="534" y2="82.1" stroke="#d8a020" stroke-width="1.2" />
<line x1="534" y1="82.1" x2="534" y2="89.4" stroke="#d8a020" stroke-width="1.2" />
<line x1="526.8" y1="89.4" x2="534" y2="89.4" stroke="#d8a020" stroke-width="1.2" />
<rect x="499" y="74.9" width="27.8" height="7.2" stroke="#d020d8" fill="none" stroke-width="1" />
<line x1="503" y1="75" x2="503" y2="82" stroke="#d020d8" stroke-width="1" />
<line x1="507" y1="75" x2="507" y2="82" stroke="#d020d8" stroke-width="1" />
<line x1="511" y1="75" x2="511" y2="82" stroke="#d020d8" stroke-width="1" />
<line x1="515" y1="75" x2="515" y2="82" stroke="#d020d8" stroke-width="1" />
<line x1="519" y1="75" x2="519" y2="82" stroke="#d020d8" stroke-width="1" />
<line x1="523" y1="75" x2="523" y2="82" stroke="#d020d8" stroke-width="1" />
<polyline points="534,61 534,70 542,70 542,76 548,76" stroke="#ffffff" stroke-width="0.8" fill="none" />
<circle cx="541" cy="63" r="2" stroke="#ffffff" fill="none" stroke-width="1"/>
<rect x="539" y="62" width="3" height="2" stroke="none" fill="#f0902a" stroke-width="1" />
<rect x="541" y="70" width="5" height="3" stroke="none" fill="#f0902a" stroke-width="1" />
<rect x="547" y="78" width="4" height="3" stroke="none" fill="#f0902a" stroke-width="1" />
<rect x="553" y="80" width="3" height="5" stroke="none" fill="#f0902a" stroke-width="1" />
<rect x="549" y="61" width="3" height="4" stroke="none" fill="#f0902a" stroke-width="1" />
<rect x="554.2" y="59.1" width="50" height="6" stroke="#d020d8" fill="none" stroke-width="1.2" />
<rect x="554.2" y="71.7" width="44" height="5.4" stroke="#d020d8" fill="none" stroke-width="1.2" />
<rect x="596" y="60" width="8" height="4" stroke="none" fill="#f0902a" stroke-width="1" />
<rect x="590" y="72" width="7" height="4" stroke="none" fill="#f0902a" stroke-width="1" />
<line x1="555" y1="84.1" x2="570" y2="84.1" stroke="#ffffff" stroke-width="0.8" />
<line x1="571" y1="84.1" x2="585" y2="84.1" stroke="#ffffff" stroke-width="2.5" stroke-dasharray="1.6 0.7 1 0.6 2 0.8" stroke-opacity="0.9"/>
<line x1="555" y1="64" x2="555" y2="100" stroke="#ffffff" stroke-width="0.8" />
<line x1="484.5" y1="55.5" x2="484.5" y2="90" stroke="#ffffff" stroke-width="1" />
<line x1="484.5" y1="55.5" x2="494" y2="55.5" stroke="#ffffff" stroke-width="0.8" />
<line x1="484.5" y1="90" x2="494" y2="90" stroke="#ffffff" stroke-width="0.8" />
<line x1="486" y1="63" x2="494" y2="63" stroke="#ffffff" stroke-width="0.8" />
<line x1="486" y1="70" x2="494" y2="70" stroke="#ffffff" stroke-width="0.8" />
<line x1="486" y1="77" x2="494" y2="77" stroke="#ffffff" stroke-width="0.8" />
<line x1="486" y1="84" x2="494" y2="84" stroke="#ffffff" stroke-width="0.8" />
<line x1="487.5" y1="57" x2="487.5" y2="89" stroke="#f0902a" stroke-width="2.2" stroke-dasharray="2 1"/>
<line x1="480" y1="70" x2="482" y2="70" stroke="#f0902a" stroke-width="3" stroke-dasharray="1.6 0.7 1 0.6 2 0.8" stroke-opacity="0.9"/>
<line x1="486" y1="50" x2="489" y2="50" stroke="#f0902a" stroke-width="3" stroke-dasharray="1.6 0.7 1 0.6 2 0.8" stroke-opacity="0.9"/>
<line x1="614.3" y1="55" x2="614.3" y2="90.2" stroke="#ffffff" stroke-width="1" />
<line x1="609.3" y1="55" x2="614.3" y2="55" stroke="#ffffff" stroke-width="0.8" />
<line x1="609.3" y1="62" x2="614.3" y2="62" stroke="#ffffff" stroke-width="0.8" />
<line x1="609.3" y1="68" x2="614.3" y2="68" stroke="#ffffff" stroke-width="0.8" />
<line x1="609.3" y1="74" x2="614.3" y2="74" stroke="#ffffff" stroke-width="0.8" />
<line x1="609.3" y1="82" x2="614.3" y2="82" stroke="#ffffff" stroke-width="0.8" />
<line x1="609.3" y1="90.2" x2="614.3" y2="90.2" stroke="#ffffff" stroke-width="0.8" />
<rect x="608" y="57.5" width="3" height="3" stroke="none" fill="#f0902a" stroke-width="1" />
<rect x="608" y="64.5" width="3" height="3" stroke="none" fill="#f0902a" stroke-width="1" />
<rect x="608" y="70.5" width="3" height="3" stroke="none" fill="#f0902a" stroke-width="1" />
<rect x="608" y="77.5" width="3" height="3" stroke="none" fill="#f0902a" stroke-width="1" />
<rect x="608" y="84.5" width="3" height="3" stroke="none" fill="#f0902a" stroke-width="1" />
<rect x="612" y="52" width="3" height="3" stroke="none" fill="#f0902a" stroke-width="1" />
<line x1="502.6" y1="97.3" x2="597.3" y2="97.3" stroke="#ffffff" stroke-width="1" />
<line x1="502.6" y1="102.2" x2="603.3" y2="102.2" stroke="#ffffff" stroke-width="1" />
<line x1="502.6" y1="94" x2="502.6" y2="103" stroke="#ffffff" stroke-width="0.8" />
<line x1="510" y1="94" x2="510" y2="103" stroke="#ffffff" stroke-width="0.8" />
<line x1="518" y1="94" x2="518" y2="103" stroke="#ffffff" stroke-width="0.8" />
<line x1="526" y1="94" x2="526" y2="103" stroke="#ffffff" stroke-width="0.8" />
<line x1="534" y1="94" x2="534" y2="103" stroke="#ffffff" stroke-width="0.8" />
<line x1="540" y1="94" x2="540" y2="103" stroke="#ffffff" stroke-width="0.8" />
<line x1="546" y1="94" x2="546" y2="103" stroke="#ffffff" stroke-width="0.8" />
<line x1="553.4" y1="94" x2="553.4" y2="103" stroke="#ffffff" stroke-width="0.8" />
<line x1="597.3" y1="94" x2="597.3" y2="103" stroke="#ffffff" stroke-width="0.8" />
<line x1="603.3" y1="96" x2="603.3" y2="104" stroke="#ffffff" stroke-width="0.8" />
<rect x="504" y="92" width="5" height="3" stroke="none" fill="#f0902a" stroke-width="1" />
<rect x="511" y="92" width="5" height="3" stroke="none" fill="#f0902a" stroke-width="1" />
<rect x="519" y="92" width="5" height="3" stroke="none" fill="#f0902a" stroke-width="1" />
<rect x="527" y="92" width="5" height="3" stroke="none" fill="#f0902a" stroke-width="1" />
<rect x="535" y="92" width="5" height="3" stroke="none" fill="#f0902a" stroke-width="1" />
<rect x="541" y="92" width="5" height="3" stroke="none" fill="#f0902a" stroke-width="1" />
<rect x="547" y="92" width="5" height="3" stroke="none" fill="#f0902a" stroke-width="1" />
<rect x="572" y="93" width="6" height="3" stroke="none" fill="#f0902a" stroke-width="1" />
<rect x="524" y="104" width="6" height="3" stroke="none" fill="#f0902a" stroke-width="1" />
<line x1="576" y1="100" x2="581" y2="100" stroke="#f0902a" stroke-width="2.5" stroke-dasharray="1.6 0.7 1 0.6 2 0.8" stroke-opacity="0.9"/>
<circle cx="540.2" cy="39" r="3" stroke="#ffffff" fill="none" stroke-width="1"/>
<line x1="537.2" y1="39" x2="543.2" y2="39" stroke="#ffffff" stroke-width="0.8" />
<line x1="540.2" y1="36" x2="540.2" y2="42" stroke="#ffffff" stroke-width="0.8" />
<circle cx="544.2" cy="107.2" r="3" stroke="#ffffff" fill="none" stroke-width="1"/>
<line x1="541.2" y1="107.2" x2="547.2" y2="107.2" stroke="#ffffff" stroke-width="0.8" />
<line x1="544.2" y1="104.2" x2="544.2" y2="110.2" stroke="#ffffff" stroke-width="0.8" />
<circle cx="475.4" cy="71.9" r="3" stroke="#ffffff" fill="none" stroke-width="1"/>
<line x1="472.4" y1="71.9" x2="478.4" y2="71.9" stroke="#ffffff" stroke-width="0.8" />
<line x1="475.4" y1="68.9" x2="475.4" y2="74.9" stroke="#ffffff" stroke-width="0.8" />
<circle cx="620.3" cy="71.1" r="3" stroke="#ffffff" fill="none" stroke-width="1"/>
<line x1="617.3" y1="71.1" x2="623.3" y2="71.1" stroke="#ffffff" stroke-width="0.8" />
<line x1="620.3" y1="68.1" x2="620.3" y2="74.1" stroke="#ffffff" stroke-width="0.8" />
<line x1="537" y1="115" x2="557" y2="115" stroke="#f4aaa8" stroke-width="3.5" stroke-dasharray="1.6 0.7 1 0.6 2 0.8" stroke-opacity="0.9"/>
<line x1="560" y1="115.5" x2="569" y2="115.5" stroke="#ffffff" stroke-width="2.5" stroke-dasharray="1.6 0.7 1 0.6 2 0.8" stroke-opacity="0.9"/>
<line x1="535" y1="119.2" x2="571" y2="119.2" stroke="#ffffff" stroke-width="1.4" />
<line x1="633.3" y1="62" x2="633.3" y2="90" stroke="#ffffff" stroke-width="1" />
<line x1="639" y1="72" x2="639" y2="90" stroke="#ffffff" stroke-width="1" />
<line x1="633.3" y1="62" x2="642" y2="62" stroke="#ffffff" stroke-width="0.8" />
<line x1="633.3" y1="72" x2="642" y2="72" stroke="#ffffff" stroke-width="0.8" />
<line x1="633.3" y1="81" x2="642" y2="81" stroke="#ffffff" stroke-width="0.8" />
<line x1="633.3" y1="90" x2="642" y2="90" stroke="#ffffff" stroke-width="0.8" />
<rect x="631" y="63" width="3" height="4" stroke="none" fill="#f0902a" stroke-width="1" />
<rect x="631" y="73" width="3" height="4" stroke="none" fill="#f0902a" stroke-width="1" />
<rect x="637" y="78" width="3" height="4" stroke="none" fill="#f0902a" stroke-width="1" />
<line x1="645" y1="71.7" x2="655" y2="71.7" stroke="#ffffff" stroke-width="0.8" />
<line x1="645" y1="80.9" x2="655" y2="80.9" stroke="#ffffff" stroke-width="0.8" />
<rect x="641" y="70" width="3" height="3.5" stroke="none" fill="#f0902a" stroke-width="1" />
<rect x="641" y="79" width="3" height="3.5" stroke="none" fill="#f0902a" stroke-width="1" />
<line x1="655.9" y1="72" x2="655.9" y2="89" stroke="#ffffff" stroke-width="0.8" />
<path d="M621,84 C621,81 623,80 625,80 C627,80 628,82 629,84 Z" stroke="none" fill="#ffffff" stroke-width="1" />
<polygon points="653.4,89.3 653.4,80 664,78 664,75 676,74 676,71 688,70 688,67 700,66 707,65.9 707,89.3" stroke="none" stroke-width="1" fill="#8a8a96" />
<line x1="660" y1="76" x2="706" y2="76" stroke="#000" stroke-width="0.7" stroke-dasharray="3 1.5"/>
<line x1="660" y1="79.5" x2="706" y2="79.5" stroke="#000" stroke-width="0.7" stroke-dasharray="3 1.5"/>
<line x1="660" y1="83" x2="706" y2="83" stroke="#000" stroke-width="0.7" stroke-dasharray="3 1.5"/>
<line x1="660" y1="86.5" x2="706" y2="86.5" stroke="#000" stroke-width="0.7" stroke-dasharray="3 1.5"/>
<rect x="679.3" y="58.4" width="28.3" height="4.1" stroke="none" fill="#d8a020" stroke-width="1" />
<rect x="656.4" y="62" width="51.2" height="26.4" stroke="#d8a020" fill="none" stroke-width="1.2" />
<line x1="656.4" y1="66" x2="679" y2="66" stroke="#d8a020" stroke-width="1" />
<line x1="656.4" y1="70" x2="679" y2="70" stroke="#d8a020" stroke-width="1" />
<line x1="656.4" y1="78.4" x2="668" y2="78.4" stroke="#d8a020" stroke-width="1" />
<line x1="664" y1="62" x2="664" y2="78" stroke="#d8a020" stroke-width="1" />
<line x1="671" y1="62" x2="671" y2="70" stroke="#d8a020" stroke-width="1" />
<rect x="670" y="65" width="6" height="2" stroke="none" fill="#ffffff" stroke-width="1" />
<rect x="666" y="76" width="4" height="3" stroke="none" fill="#ffffff" stroke-width="1" />
<rect x="683" y="67" width="6" height="3" stroke="none" fill="#f0902a" stroke-width="1" />
<rect x="694" y="66" width="3" height="5" stroke="none" fill="#f0902a" stroke-width="1" />
<rect x="687.6" y="74.2" width="10" height="15" stroke="#d8a020" fill="#202028" stroke-width="0.6" />
<rect x="690" y="77" width="1" height="1" stroke="none" fill="#aaa" stroke-width="1" />
<rect x="694" y="79" width="1" height="1" stroke="none" fill="#aaa" stroke-width="1" />
<rect x="691" y="83" width="1" height="1" stroke="none" fill="#aaa" stroke-width="1" />
<rect x="695" y="86" width="1" height="1" stroke="none" fill="#aaa" stroke-width="1" />
<path d="M707.6,62 C708,59 712,57.5 716,57.5 C721,57.5 724,60 726.9,63.4" stroke="#ffffff" fill="none" stroke-width="1" />
<polygon points="727.7,63.4 746.9,64.2 749.4,68.4 757,78.4 767,80.9 767.8,85.1 726.9,86.8" stroke="none" stroke-width="1" fill="#8a8a96" />
<rect x="731" y="65" width="6" height="2" stroke="none" fill="#ffffff" stroke-width="1" />
<circle cx="747" cy="67" r="1.2" stroke="#ffffff" fill="none" stroke-width="1"/>
<path d="M708.5,61.7 C712,61.8 716,62 718.5,62.5 C723,65 727,69 730.2,71.7 C736,75.5 741,78.5 746.9,80.1 L757,80.9" stroke="#d020d8" fill="none" stroke-width="1.2" />
<path d="M708.5,65.9 C712,66 716,66.3 718.5,67 C723,70 727,73 730,76 C736,80 741,83.5 745,85 L757,86" stroke="#d020d8" fill="none" stroke-width="1.2" />
<path d="M713,68 L748,86 L756,86 L756,81" stroke="#d020d8" fill="none" stroke-width="0.8" />
<line x1="716" y1="63" x2="716" y2="88" stroke="#ffffff" stroke-width="0.8" />
<line x1="731" y1="70" x2="731" y2="88" stroke="#ffffff" stroke-width="0.8" />
<rect x="714" y="73" width="3" height="4" stroke="none" fill="#f0902a" stroke-width="1" />
<rect x="709" y="78" width="4" height="3" stroke="none" fill="#f0902a" stroke-width="1" />
<rect x="742" y="72" width="3" height="3" stroke="none" fill="#f0902a" stroke-width="1" />
<line x1="640" y1="88.8" x2="773.6" y2="88.8" stroke="#ffffff" stroke-width="1" />
<line x1="642" y1="90.4" x2="773.6" y2="90.4" stroke="#ffffff" stroke-width="1" />
<line x1="700" y1="85" x2="780.3" y2="85" stroke="#e8e830" stroke-width="1" />
<line x1="662" y1="91" x2="662" y2="95" stroke="#ffffff" stroke-width="0.8" />
<line x1="633" y1="96.3" x2="670" y2="96.3" stroke="#2fd8e0" stroke-width="1" />
<line x1="633" y1="103.8" x2="670" y2="103.8" stroke="#2fd8e0" stroke-width="1" />
<line x1="633" y1="110.5" x2="670" y2="110.5" stroke="#2fd8e0" stroke-width="1" />
<line x1="670" y1="90" x2="670" y2="111" stroke="#ffffff" stroke-width="0.8" />
<line x1="634" y1="94.3" x2="662" y2="94.3" stroke="#f4aaa8" stroke-width="2.75" stroke-dasharray="1.6 0.7 1 0.6 2 0.8" stroke-opacity="0.9"/>
<line x1="634" y1="101.8" x2="660" y2="101.8" stroke="#f4aaa8" stroke-width="2.75" stroke-dasharray="1.6 0.7 1 0.6 2 0.8" stroke-opacity="0.9"/>
<line x1="634" y1="108.5" x2="640" y2="108.5" stroke="#f4aaa8" stroke-width="2.75" stroke-dasharray="1.6 0.7 1 0.6 2 0.8" stroke-opacity="0.9"/>
<polyline points="692,89 700,97 713,97" stroke="#2fd8e0" stroke-width="1" fill="none" />
<line x1="700" y1="95" x2="709" y2="95" stroke="#f4aaa8" stroke-width="2.75" stroke-dasharray="1.6 0.7 1 0.6 2 0.8" stroke-opacity="0.9"/>
<line x1="683" y1="112.7" x2="690" y2="112.7" stroke="#ffffff" stroke-width="0.8" />
<line x1="697" y1="112.2" x2="714" y2="112.2" stroke="#f4aaa8" stroke-width="3.5" stroke-dasharray="1.6 0.7 1 0.6 2 0.8" stroke-opacity="0.9"/>
<line x1="717" y1="112.7" x2="727" y2="112.7" stroke="#ffffff" stroke-width="2.5" stroke-dasharray="1.6 0.7 1 0.6 2 0.8" stroke-opacity="0.9"/>
<line x1="682.5" y1="117" x2="728" y2="117" stroke="#ffffff" stroke-width="1.4" />
<line x1="474.5" y1="149" x2="474.5" y2="174" stroke="#ffffff" stroke-width="1" />
<line x1="479.8" y1="158" x2="479.8" y2="174" stroke="#ffffff" stroke-width="1" />
<line x1="485.1" y1="158" x2="485.1" y2="174" stroke="#ffffff" stroke-width="1" />
<line x1="474.5" y1="149" x2="481" y2="149" stroke="#ffffff" stroke-width="0.8" />
<line x1="479.8" y1="158" x2="486" y2="158" stroke="#ffffff" stroke-width="0.8" />
<line x1="483" y1="158" x2="490" y2="158" stroke="#ffffff" stroke-width="0.8" />
<rect x="472" y="149" width="3" height="4" stroke="none" fill="#f0902a" stroke-width="1" />
<rect x="472" y="159" width="3" height="4" stroke="none" fill="#f0902a" stroke-width="1" />
<rect x="478" y="163" width="3" height="4" stroke="none" fill="#f0902a" stroke-width="1" />
<rect x="483" y="165" width="3" height="4" stroke="none" fill="#f0902a" stroke-width="1" />
<rect x="475" y="171" width="3" height="3" stroke="none" fill="#f0902a" stroke-width="1" />
<rect x="489.3" y="168" width="7.4" height="4" stroke="#ffffff" fill="none" stroke-width="0.8" />
<rect x="491" y="170" width="5" height="2" stroke="none" fill="#e8e830" stroke-width="1" />
<rect x="498.9" y="158.6" width="2.6" height="15" stroke="none" fill="#8a8a96" stroke-width="1" />
<rect x="498" y="170" width="3" height="3" stroke="none" fill="#d020d8" stroke-width="1" />
<polyline points="497,158.6 497,155 503,155" stroke="#ffffff" stroke-width="0.8" fill="none" />
<rect x="502.6" y="149" width="4.2" height="25" stroke="none" fill="#d8a020" stroke-width="1" />
<rect x="503.5" y="153" width="2.5" height="3" stroke="none" fill="#f0902a" stroke-width="1" />
<rect x="503.5" y="160" width="2.5" height="3" stroke="none" fill="#f0902a" stroke-width="1" />
<rect x="503.5" y="167" width="2.5" height="3" stroke="none" fill="#f0902a" stroke-width="1" />
<rect x="525.3" y="145.3" width="28.6" height="6.9" stroke="none" fill="#d8a020" stroke-width="1" />
<rect x="509.4" y="150.1" width="24.9" height="23.8" stroke="#d8a020" fill="none" stroke-width="1.2" />
<line x1="518.4" y1="158.6" x2="518.4" y2="173.9" stroke="#d8a020" stroke-width="1.2" />
<line x1="526.9" y1="150.1" x2="526.9" y2="173.9" stroke="#d8a020" stroke-width="1.2" />
<line x1="509.4" y1="158.6" x2="534.3" y2="158.6" stroke="#d8a020" stroke-width="1.2" />
<line x1="509.4" y1="166.5" x2="534.3" y2="166.5" stroke="#d8a020" stroke-width="1.2" />
<rect x="513" y="154.9" width="19.7" height="3.1" stroke="none" fill="#9a9aaa" stroke-width="1" />
<line x1="512" y1="153.5" x2="534" y2="153.5" stroke="#ffffff" stroke-width="0.8" />
<polyline points="514.7,164.9 518,163 520,163 524.2,160.7" stroke="#d020d8" stroke-width="1.2" fill="none" />
<rect x="520" y="169" width="6" height="3" stroke="none" fill="#ffffff" stroke-width="1" />
<rect x="535" y="152" width="6" height="6" stroke="#ffffff" fill="none" stroke-width="0.6" />
<rect x="537" y="153.5" width="6" height="2.5" stroke="none" fill="#d020d8" stroke-width="1" />
<rect x="554" y="144.8" width="6.3" height="20" stroke="none" fill="#f0902a" stroke-width="1" />
<line x1="553.9" y1="152" x2="553.9" y2="174" stroke="#d8a020" stroke-width="1" />
<path d="M560.9,150.1 L595.8,167.6" stroke="#d020d8" fill="none" stroke-width="1.3" />
<path d="M560.9,154.3 L595.8,169.7" stroke="#d020d8" fill="none" stroke-width="1.3" />
<path d="M560.9,160.1 L587.3,167" stroke="#d020d8" fill="none" stroke-width="1.3" />
<line x1="562.5" y1="144.8" x2="573.6" y2="150.1" stroke="#ffffff" stroke-width="1" />
<polygon points="573,151.2 591.5,151.2 594.7,158.6 597.9,164.9 612.7,166 612.7,172.3 573,172.3 573,161.7" stroke="none" stroke-width="1" fill="#8a8a96" />
<path d="M560.9,150.1 L595.8,167.6" stroke="#d020d8" fill="none" stroke-width="1.3" />
<path d="M560.9,154.3 L595.8,169.7" stroke="#d020d8" fill="none" stroke-width="1.3" />
<rect x="597" y="167" width="4" height="4" stroke="none" fill="#d020d8" stroke-width="1" />
<rect x="587" y="166" width="3" height="3" stroke="none" fill="#f0902a" stroke-width="1" />
<rect x="579" y="165" width="3" height="3" stroke="none" fill="#f0902a" stroke-width="1" />
<rect x="559.8" y="172.8" width="6.9" height="6.4" stroke="none" fill="#22ee22" stroke-width="1" />
<polyline points="561,163 561,174" stroke="#ffffff" stroke-width="0.8" fill="none" />
<path d="M559,166 L563,168 L560,171" stroke="#ffffff" fill="none" stroke-width="0.8" />
<rect x="564" y="162" width="2" height="5" stroke="none" fill="#f0902a" stroke-width="1" />
<line x1="474.5" y1="173.9" x2="621.2" y2="173.9" stroke="#e8e830" stroke-width="1" />
<line x1="630.7" y1="152.7" x2="630.7" y2="174.4" stroke="#ffffff" stroke-width="1" />
<line x1="625.9" y1="158" x2="625.9" y2="174.4" stroke="#ffffff" stroke-width="1" />
<line x1="627" y1="152.7" x2="634" y2="152.7" stroke="#ffffff" stroke-width="0.8" />
<line x1="622" y1="158" x2="629" y2="158" stroke="#ffffff" stroke-width="0.8" />
<line x1="622" y1="174.4" x2="634" y2="174.4" stroke="#ffffff" stroke-width="0.8" />
<rect x="627.5" y="159" width="3" height="6" stroke="none" fill="#f0902a" stroke-width="1" />
<rect x="622.5" y="163" width="3" height="6" stroke="none" fill="#f0902a" stroke-width="1" />
<line x1="491.4" y1="138" x2="501.4" y2="138" stroke="#2fd8e0" stroke-width="0.8" />
<line x1="491.4" y1="136" x2="499.4" y2="136" stroke="#f4aaa8" stroke-width="2.5" stroke-dasharray="1.6 0.7 1 0.6 2 0.8" stroke-opacity="0.9"/>
<line x1="491.4" y1="143.2" x2="501.4" y2="143.2" stroke="#2fd8e0" stroke-width="0.8" />
<line x1="491.4" y1="141.2" x2="499.4" y2="141.2" stroke="#f4aaa8" stroke-width="2.5" stroke-dasharray="1.6 0.7 1 0.6 2 0.8" stroke-opacity="0.9"/>
<line x1="491.4" y1="147" x2="501.4" y2="147" stroke="#2fd8e0" stroke-width="0.8" />
<line x1="491.4" y1="145" x2="499.4" y2="145" stroke="#f4aaa8" stroke-width="2.5" stroke-dasharray="1.6 0.7 1 0.6 2 0.8" stroke-opacity="0.9"/>
<polyline points="501,138 512,138 526,148" stroke="#2fd8e0" stroke-width="0.8" fill="none" />
<polyline points="501,143.2 510,143.2 516,152" stroke="#2fd8e0" stroke-width="0.8" fill="none" />
<polyline points="501,147 508,147 512,156" stroke="#2fd8e0" stroke-width="0.8" fill="none" />
<polyline points="511.5,174 514.2,180.8 548.6,180.8" stroke="#2fd8e0" stroke-width="0.8" fill="none" />
<line x1="515" y1="178.5" x2="545" y2="178.5" stroke="#f4aaa8" stroke-width="2.875" stroke-dasharray="1.6 0.7 1 0.6 2 0.8" stroke-opacity="0.9"/>
<polyline points="543,144 545,141 560,141" stroke="#2fd8e0" stroke-width="0.8" fill="none" />
<line x1="543" y1="139" x2="555" y2="139" stroke="#f4aaa8" stroke-width="2.875" stroke-dasharray="1.6 0.7 1 0.6 2 0.8" stroke-opacity="0.9"/>
<polyline points="557,146 562,138 580,138" stroke="#2fd8e0" stroke-width="0.8" fill="none" />
<line x1="565" y1="136" x2="573" y2="136" stroke="#f4aaa8" stroke-width="2.875" stroke-dasharray="1.6 0.7 1 0.6 2 0.8" stroke-opacity="0.9"/>
<polyline points="582,151.2 584.1,145.3 612.7,145.3" stroke="#2fd8e0" stroke-width="0.8" fill="none" />
<line x1="585" y1="143" x2="607" y2="143" stroke="#f4aaa8" stroke-width="2.875" stroke-dasharray="1.6 0.7 1 0.6 2 0.8" stroke-opacity="0.9"/>
<polyline points="594.7,158 621.2,158" stroke="#2fd8e0" stroke-width="0.8" fill="none" />
<line x1="600" y1="156" x2="612" y2="156" stroke="#f4aaa8" stroke-width="2.875" stroke-dasharray="1.6 0.7 1 0.6 2 0.8" stroke-opacity="0.9"/>
<polyline points="578.9,174 578.9,181.8 608.5,181.8" stroke="#2fd8e0" stroke-width="0.8" fill="none" />
<line x1="581" y1="179.5" x2="603" y2="179.5" stroke="#f4aaa8" stroke-width="2.875" stroke-dasharray="1.6 0.7 1 0.6 2 0.8" stroke-opacity="0.9"/>
<polyline points="557,176 560,181 565,181" stroke="#2fd8e0" stroke-width="0.8" fill="none" />
<circle cx="524.4" cy="194.8" r="3.3" stroke="#ffffff" fill="none" stroke-width="1"/>
<line x1="531" y1="191" x2="545" y2="191" stroke="#f4aaa8" stroke-width="3.5" stroke-dasharray="1.6 0.7 1 0.6 2 0.8" stroke-opacity="0.9"/>
<line x1="549" y1="191.3" x2="561" y2="191.3" stroke="#ffffff" stroke-width="2.5" stroke-dasharray="1.6 0.7 1 0.6 2 0.8" stroke-opacity="0.9"/>
<line x1="524" y1="194.8" x2="562" y2="194.8" stroke="#ffffff" stroke-width="1.3" />
<line x1="567" y1="189.3" x2="613" y2="189.3" stroke="#f4aaa8" stroke-width="2.75" stroke-dasharray="1.6 0.7 1 0.6 2 0.8" stroke-opacity="0.9"/>
<line x1="567" y1="194.2" x2="579" y2="194.2" stroke="#f4aaa8" stroke-width="2.75" stroke-dasharray="1.6 0.7 1 0.6 2 0.8" stroke-opacity="0.9"/>
<line x1="653.4" y1="174.3" x2="757" y2="174.3" stroke="#ffffff" stroke-width="1" />
<line x1="653.4" y1="144.2" x2="653.4" y2="174.3" stroke="#ffffff" stroke-width="1" />
<line x1="653.4" y1="144.2" x2="658.4" y2="144.2" stroke="#ffffff" stroke-width="0.8" />
<line x1="658.4" y1="151" x2="658.4" y2="174.3" stroke="#ffffff" stroke-width="1" />
<line x1="658.4" y1="151" x2="663.4" y2="151" stroke="#ffffff" stroke-width="0.8" />
<line x1="664" y1="151" x2="664" y2="174.3" stroke="#ffffff" stroke-width="1" />
<line x1="664" y1="151" x2="669" y2="151" stroke="#ffffff" stroke-width="0.8" />
<line x1="669" y1="153" x2="669" y2="174.3" stroke="#ffffff" stroke-width="1" />
<line x1="669" y1="153" x2="674" y2="153" stroke="#ffffff" stroke-width="0.8" />
<line x1="674" y1="158" x2="674" y2="174.3" stroke="#ffffff" stroke-width="1" />
<line x1="674" y1="158" x2="679" y2="158" stroke="#ffffff" stroke-width="0.8" />
<rect x="650.5" y="158" width="3" height="5" stroke="none" fill="#f0902a" stroke-width="1" />
<rect x="655.5" y="160" width="3" height="5" stroke="none" fill="#f0902a" stroke-width="1" />
<rect x="661" y="159" width="3" height="5" stroke="none" fill="#f0902a" stroke-width="1" />
<rect x="666" y="161" width="3" height="5" stroke="none" fill="#f0902a" stroke-width="1" />
<rect x="671" y="165" width="3" height="5" stroke="none" fill="#f0902a" stroke-width="1" />
<path d="M676,172 C676,169 678,168 681,168 C684,168 685,170 686,172 Z" stroke="none" fill="#ffffff" stroke-width="1" />
<line x1="675" y1="173" x2="687" y2="173" stroke="#e8e830" stroke-width="1" />
<line x1="688" y1="152" x2="688" y2="174.3" stroke="#ffffff" stroke-width="0.8" />
<line x1="690" y1="152" x2="690" y2="174.3" stroke="#ffffff" stroke-width="0.8" />
<polyline points="690,146 690,143 697,143" stroke="#ffffff" stroke-width="0.8" fill="none" />
<line x1="691" y1="138" x2="697" y2="138" stroke="#f0902a" stroke-width="3" stroke-dasharray="1.6 0.7 1 0.6 2 0.8" stroke-opacity="0.9"/>
<line x1="701" y1="140" x2="706" y2="140" stroke="#f0902a" stroke-width="3.125" stroke-dasharray="1.6 0.7 1 0.6 2 0.8" stroke-opacity="0.9"/>
<rect x="691" y="146" width="5" height="8" stroke="none" fill="#d8a020" stroke-width="1" />
<rect x="703" y="146" width="5" height="9" stroke="none" fill="#d8a020" stroke-width="1" />
<rect x="697.5" y="151.7" width="29.4" height="22.6" stroke="#d8a020" fill="none" stroke-width="1.2" />
<line x1="704" y1="151.7" x2="704" y2="174.3" stroke="#d8a020" stroke-width="1.2" />
<line x1="712.5" y1="151.7" x2="712.5" y2="174.3" stroke="#d8a020" stroke-width="1.2" />
<line x1="720" y1="151.7" x2="720" y2="174.3" stroke="#d8a020" stroke-width="1.2" />
<line x1="697.5" y1="158.4" x2="726.9" y2="158.4" stroke="#d8a020" stroke-width="1.2" />
<line x1="697.5" y1="166.8" x2="726.9" y2="166.8" stroke="#d8a020" stroke-width="1.2" />
<rect x="693.4" y="156" width="10.6" height="1.6" stroke="none" fill="#d020d8" stroke-width="1" />
<line x1="711.8" y1="159.5" x2="717.7" y2="159.5" stroke="#d020d8" stroke-width="1" />
<line x1="711.8" y1="161.5" x2="717.7" y2="161.5" stroke="#d020d8" stroke-width="1" />
<line x1="711.8" y1="163.5" x2="717.7" y2="163.5" stroke="#d020d8" stroke-width="1" />
<line x1="711.8" y1="165.5" x2="717.7" y2="165.5" stroke="#d020d8" stroke-width="1" />
<line x1="711.8" y1="167.5" x2="717.7" y2="167.5" stroke="#d020d8" stroke-width="1" />
<line x1="711.8" y1="169.5" x2="717.7" y2="169.5" stroke="#d020d8" stroke-width="1" />
<line x1="697" y1="166" x2="697" y2="174" stroke="#e03020" stroke-width="1" />
<line x1="705" y1="166" x2="705" y2="174" stroke="#e03020" stroke-width="1" />
<line x1="712" y1="166" x2="712" y2="174" stroke="#e03020" stroke-width="1" />
<line x1="720" y1="166" x2="720" y2="174" stroke="#e03020" stroke-width="1" />
<line x1="716" y1="169" x2="716" y2="175" stroke="#ffffff" stroke-width="0.8" />
<line x1="696" y1="178.4" x2="726.9" y2="178.4" stroke="#ffffff" stroke-width="0.8" />
<line x1="696" y1="184.3" x2="726.9" y2="184.3" stroke="#ffffff" stroke-width="0.8" />
<line x1="696" y1="177" x2="696" y2="185" stroke="#ffffff" stroke-width="0.8" />
<line x1="704" y1="177" x2="704" y2="185" stroke="#ffffff" stroke-width="0.8" />
<line x1="712" y1="177" x2="712" y2="185" stroke="#ffffff" stroke-width="0.8" />
<line x1="720" y1="177" x2="720" y2="185" stroke="#ffffff" stroke-width="0.8" />
<line x1="726.9" y1="177" x2="726.9" y2="185" stroke="#ffffff" stroke-width="0.8" />
<rect x="697" y="179.5" width="5" height="3.5" stroke="none" fill="#f0902a" stroke-width="1" />
<rect x="705" y="179.5" width="5" height="3.5" stroke="none" fill="#f0902a" stroke-width="1" />
<rect x="713" y="179.5" width="5" height="3.5" stroke="none" fill="#f0902a" stroke-width="1" />
<rect x="721" y="179.5" width="5" height="3.5" stroke="none" fill="#f0902a" stroke-width="1" />
<path d="M730,172 C730,170 733,169 736,169 C738,169 740,171 740,172 Z" stroke="none" fill="#ffffff" stroke-width="1" />
<line x1="729" y1="173.5" x2="742" y2="173.5" stroke="#e8e830" stroke-width="1" />
<line x1="742" y1="158" x2="742" y2="174.3" stroke="#ffffff" stroke-width="1" />
<line x1="737" y1="158" x2="742" y2="158" stroke="#ffffff" stroke-width="0.8" />
<line x1="747" y1="155" x2="747" y2="174.3" stroke="#ffffff" stroke-width="1" />
<line x1="742" y1="155" x2="747" y2="155" stroke="#ffffff" stroke-width="0.8" />
<line x1="751" y1="151" x2="751" y2="174.3" stroke="#ffffff" stroke-width="1" />
<line x1="746" y1="151" x2="751" y2="151" stroke="#ffffff" stroke-width="0.8" />
<line x1="756" y1="150" x2="756" y2="174.3" stroke="#ffffff" stroke-width="1" />
<line x1="751" y1="150" x2="756" y2="150" stroke="#ffffff" stroke-width="0.8" />
<rect x="739.5" y="161" width="3" height="5" stroke="none" fill="#f0902a" stroke-width="1" />
<rect x="744" y="162" width="3" height="5" stroke="none" fill="#f0902a" stroke-width="1" />
<rect x="748" y="160" width="3" height="5" stroke="none" fill="#f0902a" stroke-width="1" />
<circle cx="690" cy="203.5" r="3.3" stroke="#ffffff" fill="none" stroke-width="1"/>
<line x1="695" y1="199.3" x2="709" y2="199.3" stroke="#f4aaa8" stroke-width="3.5" stroke-dasharray="1.6 0.7 1 0.6 2 0.8" stroke-opacity="0.9"/>
<line x1="712" y1="199.5" x2="724" y2="199.5" stroke="#ffffff" stroke-width="2.5" stroke-dasharray="1.6 0.7 1 0.6 2 0.8" stroke-opacity="0.9"/>
<line x1="692" y1="203.5" x2="727" y2="203.5" stroke="#ffffff" stroke-width="1.3" />
<line x1="481" y1="222" x2="481" y2="251" stroke="#ffffff" stroke-width="1" />
<line x1="490" y1="222" x2="490" y2="251" stroke="#ffffff" stroke-width="0.8" />
<line x1="481" y1="222" x2="495" y2="222" stroke="#ffffff" stroke-width="0.8" />
<line x1="481" y1="229" x2="495" y2="229" stroke="#ffffff" stroke-width="0.8" />
<line x1="481" y1="243" x2="495" y2="243" stroke="#ffffff" stroke-width="0.8" />
<line x1="481" y1="251" x2="495" y2="251" stroke="#ffffff" stroke-width="0.8" />
<rect x="478.5" y="230" width="3" height="5" stroke="none" fill="#f0902a" stroke-width="1" />
<rect x="485" y="225" width="3" height="4" stroke="none" fill="#f0902a" stroke-width="1" />
<rect x="485" y="233" width="3" height="4" stroke="none" fill="#f0902a" stroke-width="1" />
<rect x="485" y="243" width="3" height="4" stroke="none" fill="#f0902a" stroke-width="1" />
<path d="M496,250 C496,247 499,246 502,246 C504,246 505,248 506,250 Z" stroke="none" fill="#ffffff" stroke-width="1" />
<polygon points="505,251 505,246 512,243 522,243 526,236 530,232 540,229 547,226 551.2,228 551.2,251" stroke="none" stroke-width="1" fill="#8a8a96" />
<rect x="512" y="247" width="1" height="1" stroke="none" fill="#ffffff" stroke-width="1" />
<rect x="520" y="245" width="1" height="1" stroke="none" fill="#ffffff" stroke-width="1" />
<rect x="530" y="240" width="1" height="1" stroke="none" fill="#ffffff" stroke-width="1" />
<rect x="538" y="236" width="1" height="1" stroke="none" fill="#ffffff" stroke-width="1" />
<rect x="545" y="232" width="1" height="1" stroke="none" fill="#ffffff" stroke-width="1" />
<rect x="535" y="246" width="1" height="1" stroke="none" fill="#ffffff" stroke-width="1" />
<polygon points="582.3,251 582.3,240 588,236 590,233 600,233 606,234 606,238 619.3,238 619.3,251" stroke="none" stroke-width="1" fill="#8a8a96" />
<line x1="584" y1="240" x2="618" y2="240" stroke="#000" stroke-width="0.6" stroke-dasharray="2 1"/>
<line x1="584" y1="245" x2="618" y2="245" stroke="#000" stroke-width="0.6" stroke-dasharray="2 1"/>
<rect x="604" y="236" width="9" height="2" stroke="none" fill="#ffffff" stroke-width="1" />
<rect x="566" y="224" width="27.3" height="5" stroke="none" fill="#d8a020" stroke-width="1" />
<rect x="589" y="228" width="26" height="4" stroke="none" fill="#d8a020" stroke-width="1" />
<rect x="602" y="229" width="3" height="4" stroke="none" fill="#f0902a" stroke-width="1" />
<line x1="563" y1="225.5" x2="590" y2="225.5" stroke="#ffffff" stroke-width="0.8" />
<rect x="555" y="230" width="3" height="3" stroke="none" fill="#f0902a" stroke-width="1" />
<rect x="563" y="228" width="3" height="3" stroke="none" fill="#f0902a" stroke-width="1" />
<path d="M565,231 L570,234 L566,238 L572,240" stroke="#ffffff" fill="none" stroke-width="0.9" />
<path d="M558,228 C561,226 563,229 561,231" stroke="#ffffff" fill="none" stroke-width="0.8" />
<polyline points="555,236 559,233 561,236" stroke="#ffffff" stroke-width="0.8" fill="none" />
<path d="M553,230 L562,248" stroke="#ffffff" fill="none" stroke-width="0.8" />
<line x1="481" y1="251.1" x2="643" y2="251.1" stroke="#e8e830" stroke-width="1" />
<line x1="635" y1="222" x2="635" y2="251" stroke="#ffffff" stroke-width="1" />
<line x1="643" y1="222" x2="643" y2="251" stroke="#ffffff" stroke-width="1" />
<line x1="630" y1="229" x2="630" y2="251" stroke="#ffffff" stroke-width="0.8" />
<line x1="628" y1="222" x2="643" y2="222" stroke="#ffffff" stroke-width="0.8" />
<line x1="628" y1="229" x2="643" y2="229" stroke="#ffffff" stroke-width="0.8" />
<line x1="628" y1="236" x2="643" y2="236" stroke="#ffffff" stroke-width="0.8" />
<line x1="628" y1="251" x2="643" y2="251" stroke="#ffffff" stroke-width="0.8" />
<rect x="632" y="233" width="3" height="5" stroke="none" fill="#f0902a" stroke-width="1" />
<rect x="640" y="230" width="3" height="5" stroke="none" fill="#f0902a" stroke-width="1" />
<rect x="626" y="236" width="3" height="4" stroke="none" fill="#f0902a" stroke-width="1" />
<rect x="627" y="242" width="3" height="4" stroke="none" fill="#f0902a" stroke-width="1" />
<polyline points="508,214 528,214 530,249" stroke="#2fd8e0" stroke-width="0.8" fill="none" />
<line x1="509" y1="212" x2="523" y2="212" stroke="#f4aaa8" stroke-width="2.75" stroke-dasharray="1.6 0.7 1 0.6 2 0.8" stroke-opacity="0.9"/>
<polyline points="509,219 531,219 535,248" stroke="#2fd8e0" stroke-width="0.8" fill="none" />
<line x1="510" y1="217" x2="526" y2="217" stroke="#f4aaa8" stroke-width="2.75" stroke-dasharray="1.6 0.7 1 0.6 2 0.8" stroke-opacity="0.9"/>
<polyline points="509,224 531,224 541,248" stroke="#2fd8e0" stroke-width="0.8" fill="none" />
<line x1="510" y1="222" x2="526" y2="222" stroke="#f4aaa8" stroke-width="2.75" stroke-dasharray="1.6 0.7 1 0.6 2 0.8" stroke-opacity="0.9"/>
<polyline points="503,232 518,232 520,250" stroke="#2fd8e0" stroke-width="0.8" fill="none" />
<line x1="504" y1="230" x2="513" y2="230" stroke="#f4aaa8" stroke-width="2.75" stroke-dasharray="1.6 0.7 1 0.6 2 0.8" stroke-opacity="0.9"/>
<polyline points="538,212 552,212 555,228" stroke="#2fd8e0" stroke-width="0.8" fill="none" />
<line x1="538" y1="210" x2="546" y2="210" stroke="#f4aaa8" stroke-width="2.75" stroke-dasharray="1.6 0.7 1 0.6 2 0.8" stroke-opacity="0.9"/>
<polyline points="560,212 575,212 567,240" stroke="#2fd8e0" stroke-width="0.8" fill="none" />
<line x1="560" y1="210" x2="570" y2="210" stroke="#f4aaa8" stroke-width="2.75" stroke-dasharray="1.6 0.7 1 0.6 2 0.8" stroke-opacity="0.9"/>
<polyline points="578,212 597,212 580,232" stroke="#2fd8e0" stroke-width="0.8" fill="none" />
<line x1="580" y1="210" x2="595" y2="210" stroke="#f4aaa8" stroke-width="2.75" stroke-dasharray="1.6 0.7 1 0.6 2 0.8" stroke-opacity="0.9"/>
<polyline points="585,218 605,218 590,238" stroke="#2fd8e0" stroke-width="0.8" fill="none" />
<line x1="587" y1="216" x2="602" y2="216" stroke="#f4aaa8" stroke-width="2.75" stroke-dasharray="1.6 0.7 1 0.6 2 0.8" stroke-opacity="0.9"/>
<polyline points="600,223 615,223 603,236" stroke="#2fd8e0" stroke-width="0.8" fill="none" />
<line x1="602" y1="221" x2="614" y2="221" stroke="#f4aaa8" stroke-width="2.75" stroke-dasharray="1.6 0.7 1 0.6 2 0.8" stroke-opacity="0.9"/>
<polyline points="563,218 572,218 570,226" stroke="#2fd8e0" stroke-width="0.8" fill="none" />
<line x1="563" y1="216" x2="569" y2="216" stroke="#f4aaa8" stroke-width="2.75" stroke-dasharray="1.6 0.7 1 0.6 2 0.8" stroke-opacity="0.9"/>
<polyline points="556,246 558,256 585,256" stroke="#2fd8e0" stroke-width="0.8" fill="none" />
<line x1="578" y1="254" x2="598" y2="254" stroke="#f4aaa8" stroke-width="2.75" stroke-dasharray="1.6 0.7 1 0.6 2 0.8" stroke-opacity="0.9"/>
<polyline points="562,244 568,256" stroke="#2fd8e0" stroke-width="0.8" fill="none" />
<path d="M555,244 L557,240 L559,244" stroke="#ffffff" fill="none" stroke-width="0.8" />
<polyline points="553,240 555,254 565,254" stroke="#2fd8e0" stroke-width="0.8" fill="none" />
<line x1="555" y1="252" x2="560" y2="252" stroke="#f4aaa8" stroke-width="2.75" stroke-dasharray="1.6 0.7 1 0.6 2 0.8" stroke-opacity="0.9"/>
<circle cx="537.2" cy="271.2" r="3.3" stroke="#ffffff" fill="none" stroke-width="1"/>
<line x1="543" y1="266.5" x2="557" y2="266.5" stroke="#f4aaa8" stroke-width="3.5" stroke-dasharray="1.6 0.7 1 0.6 2 0.8" stroke-opacity="0.9"/>
<line x1="561" y1="266.8" x2="573" y2="266.8" stroke="#ffffff" stroke-width="2.5" stroke-dasharray="1.6 0.7 1 0.6 2 0.8" stroke-opacity="0.9"/>
<line x1="537" y1="270" x2="573" y2="270" stroke="#ffffff" stroke-width="1.3" />
<line x1="661.7" y1="252.3" x2="764.4" y2="252.3" stroke="#e8e830" stroke-width="1" />
<line x1="662.5" y1="228.4" x2="662.5" y2="252.3" stroke="#ffffff" stroke-width="1" />
<line x1="662.5" y1="228.4" x2="666" y2="228.4" stroke="#ffffff" stroke-width="0.8" />
<line x1="662.5" y1="236" x2="666" y2="236" stroke="#ffffff" stroke-width="0.8" />
<rect x="660" y="230" width="3" height="4" stroke="none" fill="#f0902a" stroke-width="1" />
<rect x="660" y="242" width="3" height="4" stroke="none" fill="#f0902a" stroke-width="1" />
<line x1="663" y1="252" x2="663" y2="249" stroke="#e8e830" stroke-width="1" />
<path d="M670,251 C670,248 673,247 676,247 C678,247 680,249 680,251 Z" stroke="none" fill="#ffffff" stroke-width="1" />
<rect x="684.3" y="229" width="35.7" height="23.3" stroke="#d8a020" fill="none" stroke-width="1" />
<line x1="684.3" y1="236" x2="720" y2="236" stroke="#d8a020" stroke-width="1" />
<rect x="697.6" y="232.6" width="6.7" height="17.4" stroke="#d020d8" fill="none" stroke-width="1.5" />
<rect x="709.3" y="232.6" width="7.5" height="17.4" stroke="#d020d8" fill="none" stroke-width="1.5" />
<circle cx="706.8" cy="228.4" r="3" stroke="#d8a020" fill="#d8a020" stroke-width="1"/>
<circle cx="717.7" cy="227.6" r="3" stroke="#d8a020" fill="#d8a020" stroke-width="1"/>
<line x1="720" y1="221" x2="720" y2="252.3" stroke="#ffffff" stroke-width="0.8" />
<line x1="722.7" y1="221" x2="722.7" y2="252.3" stroke="#ffffff" stroke-width="0.8" />
<line x1="725.2" y1="221" x2="725.2" y2="252.3" stroke="#ffffff" stroke-width="0.8" />
<line x1="702" y1="221" x2="710" y2="221" stroke="#ffffff" stroke-width="0.8" />
<rect x="703" y="217" width="5" height="3" stroke="none" fill="#f0902a" stroke-width="1" />
<rect x="715" y="219" width="5" height="4" stroke="none" fill="#f0902a" stroke-width="1" />
<line x1="718" y1="222" x2="724" y2="222" stroke="#ffffff" stroke-width="0.8" />
<line x1="697" y1="235" x2="697" y2="250" stroke="#f0902a" stroke-width="0.8" />
<rect x="690" y="243" width="3" height="4" stroke="none" fill="#f0902a" stroke-width="1" />
<path d="M738,251 C738,248 741,247 744,247 C747,247 748,249 748,251 Z" stroke="none" fill="#ffffff" stroke-width="1" />
<line x1="737" y1="251.5" x2="750" y2="251.5" stroke="#e8e830" stroke-width="1" />
<line x1="749.4" y1="231.7" x2="749.4" y2="252.3" stroke="#ffffff" stroke-width="1" />
<line x1="745.4" y1="231.7" x2="750.4" y2="231.7" stroke="#ffffff" stroke-width="0.8" />
<line x1="754.4" y1="230" x2="754.4" y2="252.3" stroke="#ffffff" stroke-width="1" />
<line x1="750.4" y1="230" x2="755.4" y2="230" stroke="#ffffff" stroke-width="0.8" />
<line x1="759.4" y1="227.6" x2="759.4" y2="252.3" stroke="#ffffff" stroke-width="1" />
<line x1="755.4" y1="227.6" x2="760.4" y2="227.6" stroke="#ffffff" stroke-width="0.8" />
<line x1="764.4" y1="221.7" x2="764.4" y2="252.3" stroke="#ffffff" stroke-width="1" />
<line x1="760.4" y1="221.7" x2="765.4" y2="221.7" stroke="#ffffff" stroke-width="0.8" />
<rect x="745" y="238" width="3" height="5" stroke="none" fill="#f0902a" stroke-width="1" />
<rect x="750" y="238" width="3" height="5" stroke="none" fill="#f0902a" stroke-width="1" />
<rect x="756" y="236" width="3" height="5" stroke="none" fill="#f0902a" stroke-width="1" />
<rect x="761" y="234" width="3" height="5" stroke="none" fill="#f0902a" stroke-width="1" />
<line x1="684.3" y1="258" x2="724" y2="258" stroke="#ffffff" stroke-width="0.8" />
<line x1="684.3" y1="255" x2="684.3" y2="262" stroke="#ffffff" stroke-width="0.8" />
<line x1="697" y1="255" x2="697" y2="262" stroke="#ffffff" stroke-width="0.8" />
<line x1="704" y1="255" x2="704" y2="262" stroke="#ffffff" stroke-width="0.8" />
<line x1="711" y1="255" x2="711" y2="262" stroke="#ffffff" stroke-width="0.8" />
<line x1="718" y1="255" x2="718" y2="262" stroke="#ffffff" stroke-width="0.8" />
<line x1="724" y1="255" x2="724" y2="262" stroke="#ffffff" stroke-width="0.8" />
<rect x="689" y="255.5" width="5" height="3.5" stroke="none" fill="#f0902a" stroke-width="1" />
<rect x="699" y="255.5" width="5" height="3.5" stroke="none" fill="#f0902a" stroke-width="1" />
<rect x="712" y="255.5" width="5" height="3.5" stroke="none" fill="#f0902a" stroke-width="1" />
<rect x="705" y="260" width="4" height="8" stroke="none" fill="#f0902a" stroke-width="1" />
<rect x="719" y="260" width="5" height="4" stroke="none" fill="#f0902a" stroke-width="1" />
<circle cx="686.8" cy="273.2" r="3.3" stroke="#ffffff" fill="none" stroke-width="1"/>
<line x1="693.4" y1="268.5" x2="705.4" y2="268.5" stroke="#f4aaa8" stroke-width="3.5" stroke-dasharray="1.6 0.7 1 0.6 2 0.8" stroke-opacity="0.9"/>
<line x1="711" y1="268.7" x2="723" y2="268.7" stroke="#ffffff" stroke-width="2.5" stroke-dasharray="1.6 0.7 1 0.6 2 0.8" stroke-opacity="0.9"/>
<line x1="687" y1="272.7" x2="723.5" y2="272.7" stroke="#ffffff" stroke-width="1.3" />
<path d="M520.5,350.0 A2.4,2.4 0 0 1 520.7,346.3 A2.4,2.4 0 0 1 521.4,342.6 A2.4,2.4 0 0 1 522.5,339.0 A2.4,2.4 0 0 1 524.1,335.6 A2.4,2.4 0 0 1 526.0,332.4 A2.4,2.4 0 0 1 528.3,329.4 A2.4,2.4 0 0 1 530.9,326.8 A2.4,2.4 0 0 1 533.9,324.5 A2.4,2.4 0 0 1 537.1,322.6 A2.4,2.4 0 0 1 540.5,321.0 A2.4,2.4 0 0 1 544.1,319.9 A2.4,2.4 0 0 1 547.8,319.2 A2.4,2.4 0 0 1 551.5,319.0 A2.4,2.4 0 0 1 555.2,319.2 A2.4,2.4 0 0 1 558.9,319.9 A2.4,2.4 0 0 1 562.5,321.0 A2.4,2.4 0 0 1 565.9,322.6 A2.4,2.4 0 0 1 569.1,324.5 A2.4,2.4 0 0 1 572.1,326.8 A2.4,2.4 0 0 1 574.7,329.4 A2.4,2.4 0 0 1 577.0,332.4 A2.4,2.4 0 0 1 578.9,335.6 A2.4,2.4 0 0 1 580.5,339.0 A2.4,2.4 0 0 1 581.6,342.6 A2.4,2.4 0 0 1 582.3,346.3 A2.4,2.4 0 0 1 582.5,350.0" stroke="#9c9ca6" fill="none" stroke-width="1" />
<path d="M520.5,350.0 A2,2 0 0 0 522.0,354.0 A2,2 0 0 0 526.0,357.0 A2,2 0 0 0 530.0,358.0 A2,2 0 0 0 535.0,357.0 A2,2 0 0 0 539.0,359.0 A2,2 0 0 0 543.0,360.0" stroke="#9c9ca6" fill="none" stroke-width="1" />
<path d="M582.5,350.0 A2,2 0 0 1 581.5,354.0 A2,2 0 0 1 578.0,356.5 A2,2 0 0 1 573.0,357.0 A2,2 0 0 1 568.0,358.0 A2,2 0 0 1 563.0,359.0 A2,2 0 0 1 558.0,360.0" stroke="#9c9ca6" fill="none" stroke-width="1" />
<path d="M549,366 L544,360 L540,358 M549,364 L547,356 L545,350 M551.5,366 L556,359 L561,357 M551,360 L553,352 L556,346 M549,358 L549,345" stroke="#9c9ca6" fill="none" stroke-width="0.9" />
<path d="M544.0,352.0 A1.6,1.6 0 0 1 543.0,347.0 A1.6,1.6 0 0 1 545.0,343.5 A1.6,1.6 0 0 1 549.0,342.5 A1.6,1.6 0 0 1 553.0,343.0 A1.6,1.6 0 0 1 557.0,345.5 A1.6,1.6 0 0 1 559.0,349.0 A1.6,1.6 0 0 1 557.5,353.0 A1.6,1.6 0 0 1 553.0,355.0 A1.6,1.6 0 0 1 548.0,355.0 A1.6,1.6 0 0 1 544.0,352.0" stroke="#9c9ca6" fill="none" stroke-width="0.9" />
<line x1="548.6" y1="362" x2="548.6" y2="389.5" stroke="#9c9ca6" stroke-width="1" />
<line x1="551.6" y1="362" x2="551.6" y2="389.5" stroke="#9c9ca6" stroke-width="1" />
<circle cx="521" cy="370.8" r="1.8" stroke="#ffffff" fill="#ffffff" stroke-width="1"/>
<path d="M518.8,373 L523.3,373 L523.6,381 L522.8,381 L522.8,389.6 L521.4,389.6 L521,383 L520.6,389.6 L519.2,389.6 L519.2,381 L518.4,381 Z" stroke="none" fill="#ffffff" stroke-width="1" />
<path d="M523.5,390 C523.8,385 525.5,383 527.3,383 C529.3,383 531,385 531,390" stroke="#6a30b0" fill="none" stroke-width="1.1" />
<path d="M532,390.5 C532,385.5 534,383.2 536.5,383.2 C539,383.2 541,385.5 541,390.5" stroke="#e8e8a0" fill="none" stroke-width="1.1" />
<rect x="541" y="383.6" width="41.2" height="6" stroke="none" fill="#8e8e98" stroke-width="1" />
<line x1="533" y1="383.6" x2="582.2" y2="383.6" stroke="#ffffff" stroke-width="1" />
<line x1="541" y1="388.8" x2="582" y2="388.8" stroke="#202020" stroke-width="0.8" stroke-dasharray="1 1"/>
<rect x="576.6" y="379" width="5.6" height="4.6" stroke="#ffffff" fill="none" stroke-width="1" />
<text x="577" y="378.5" fill="#f0902a" font-size="5" >*</text>
<line x1="582.2" y1="379" x2="582.2" y2="389.5" stroke="#ffffff" stroke-width="0.8" />
<line x1="587.2" y1="386" x2="587.2" y2="390.5" stroke="#ffffff" stroke-width="0.8" />
<circle cx="587.2" cy="385" r="1.6" stroke="#f0902a" fill="none" stroke-width="1"/>
<polygon points="591.7,380.6 593.2,382.6 591.7,384.6 590.2,382.6" stroke="none" stroke-width="1" fill="#f0902a" />
<line x1="515" y1="390.6" x2="600" y2="390.6" stroke="#e8e830" stroke-width="1" />
<polyline points="560.1,384.1 564.6,371.1 590.2,371.1" stroke="#2fd8e0" stroke-width="0.9" fill="none" />
<polyline points="564.6,384.1 567.6,376.1 590.2,376.1" stroke="#2fd8e0" stroke-width="0.9" fill="none" />
<line x1="565" y1="368.8" x2="584" y2="368.8" stroke="#f4aaa8" stroke-width="2.75" stroke-dasharray="1.6 0.7 1 0.6 2 0.8" stroke-opacity="0.9"/>
<line x1="569" y1="374" x2="580" y2="374" stroke="#f4aaa8" stroke-width="2.75" stroke-dasharray="1.6 0.7 1 0.6 2 0.8" stroke-opacity="0.9"/>
<circle cx="539.7" cy="406.3" r="3.3" stroke="#ffffff" fill="none" stroke-width="1"/>
<line x1="547.7" y1="402.4" x2="561.7" y2="402.4" stroke="#f4aaa8" stroke-width="3.5" stroke-dasharray="1.6 0.7 1 0.6 2 0.8" stroke-opacity="0.9"/>
<line x1="565" y1="402.6" x2="575" y2="402.6" stroke="#ffffff" stroke-width="2.5" stroke-dasharray="1.6 0.7 1 0.6 2 0.8" stroke-opacity="0.9"/>
<line x1="540" y1="406" x2="577" y2="406" stroke="#ffffff" stroke-width="1.3" />
<line x1="698.7" y1="315" x2="698.7" y2="400.4" stroke="#2fd8e0" stroke-width="1" />
<line x1="698.7" y1="315" x2="703" y2="315" stroke="#2fd8e0" stroke-width="0.8" />
<line x1="698.7" y1="321" x2="703" y2="321" stroke="#2fd8e0" stroke-width="0.8" />
<line x1="698.7" y1="326" x2="703" y2="326" stroke="#2fd8e0" stroke-width="0.8" />
<line x1="698.7" y1="331" x2="703" y2="331" stroke="#2fd8e0" stroke-width="0.8" />
<line x1="705" y1="315" x2="720" y2="315" stroke="#f4aaa8" stroke-width="2.5" stroke-dasharray="1.6 0.7 1 0.6 2 0.8" stroke-opacity="0.9"/>
<line x1="705" y1="321" x2="722" y2="321" stroke="#f4aaa8" stroke-width="2.5" stroke-dasharray="1.6 0.7 1 0.6 2 0.8" stroke-opacity="0.9"/>
<line x1="705" y1="326" x2="718" y2="326" stroke="#f4aaa8" stroke-width="2.5" stroke-dasharray="1.6 0.7 1 0.6 2 0.8" stroke-opacity="0.9"/>
<line x1="705" y1="331" x2="721" y2="331" stroke="#f4aaa8" stroke-width="2.5" stroke-dasharray="1.6 0.7 1 0.6 2 0.8" stroke-opacity="0.9"/>
<line x1="698.7" y1="352" x2="710" y2="352" stroke="#2fd8e0" stroke-width="0.8" />
<line x1="711" y1="352" x2="719" y2="352" stroke="#f4aaa8" stroke-width="2.5" stroke-dasharray="1.6 0.7 1 0.6 2 0.8" stroke-opacity="0.9"/>
<polyline points="686.5,345.5 686.5,342.9 702.8,342.9 702.8,345.5" stroke="#ffffff" stroke-width="1" fill="none" />
<line x1="691" y1="338.6" x2="696" y2="338.6" stroke="#f0902a" stroke-width="3" stroke-dasharray="1.6 0.7 1 0.6 2 0.8" stroke-opacity="0.9"/>
<rect x="686.5" y="348.9" width="16.3" height="16.3" stroke="#ffffff" fill="none" stroke-width="0.8" />
<rect x="688" y="350" width="14" height="15" stroke="#e8e830" fill="url(#hatch2)" stroke-width="1" />
<rect x="685.3" y="366.4" width="18.7" height="26.6" stroke="#e8e830" fill="#2a2a2e" stroke-width="1" />
<rect x="686.5" y="367.5" width="5" height="3.6" stroke="none" fill="#85858c" stroke-width="1" />
<rect x="692.5" y="367.5" width="5" height="3.6" stroke="none" fill="#85858c" stroke-width="1" />
<rect x="698.5" y="367.5" width="5" height="3.6" stroke="none" fill="#85858c" stroke-width="1" />
<rect x="689.5" y="372.6" width="5" height="3.6" stroke="none" fill="#85858c" stroke-width="1" />
<rect x="695.5" y="372.6" width="5" height="3.6" stroke="none" fill="#85858c" stroke-width="1" />
<rect x="701.5" y="372.6" width="2.0" height="3.6" stroke="none" fill="#85858c" stroke-width="1" />
<rect x="686.5" y="377.7" width="5" height="3.6" stroke="none" fill="#85858c" stroke-width="1" />
<rect x="692.5" y="377.7" width="5" height="3.6" stroke="none" fill="#85858c" stroke-width="1" />
<rect x="698.5" y="377.7" width="5" height="3.6" stroke="none" fill="#85858c" stroke-width="1" />
<rect x="689.5" y="382.8" width="5" height="3.6" stroke="none" fill="#85858c" stroke-width="1" />
<rect x="695.5" y="382.8" width="5" height="3.6" stroke="none" fill="#85858c" stroke-width="1" />
<rect x="701.5" y="382.8" width="2.0" height="3.6" stroke="none" fill="#85858c" stroke-width="1" />
<rect x="686.5" y="387.9" width="5" height="3.6" stroke="none" fill="#85858c" stroke-width="1" />
<rect x="692.5" y="387.9" width="5" height="3.6" stroke="none" fill="#85858c" stroke-width="1" />
<rect x="698.5" y="387.9" width="5" height="3.6" stroke="none" fill="#85858c" stroke-width="1" />
<line x1="695" y1="336.8" x2="695" y2="402" stroke="#d83018" stroke-width="1.2" />
<line x1="698.7" y1="315" x2="698.7" y2="400.4" stroke="#2fd8e0" stroke-width="1" />
<rect x="661" y="363.6" width="25.8" height="2" stroke="none" fill="#ffffff" stroke-width="1" />
<line x1="661" y1="373.5" x2="686" y2="373.5" stroke="#ffffff" stroke-width="1.2" />
<rect x="663" y="366.5" width="3" height="5" stroke="#ffffff" fill="none" stroke-width="0.6" />
<rect x="668" y="366.5" width="3" height="5" stroke="#ffffff" fill="none" stroke-width="0.6" />
<rect x="673" y="366.5" width="3" height="5" stroke="#ffffff" fill="none" stroke-width="0.6" />
<rect x="678" y="366.5" width="3" height="5" stroke="#ffffff" fill="none" stroke-width="0.6" />
<rect x="683" y="366.5" width="3" height="5" stroke="#ffffff" fill="none" stroke-width="0.6" />
<line x1="661" y1="368" x2="661" y2="372" stroke="#ffffff" stroke-width="0.8" />
<line x1="703" y1="365.6" x2="735.4" y2="365.6" stroke="#ffffff" stroke-width="1.2" />
<polyline points="729,349.7 734.4,349.7 734.4,392.4 729,392.4" stroke="#ffffff" stroke-width="1" fill="none" />
<line x1="729" y1="365.6" x2="737" y2="365.6" stroke="#ffffff" stroke-width="0.8" />
<rect x="729" y="354" width="3" height="5" stroke="none" fill="#f0902a" stroke-width="1" />
<rect x="732" y="376" width="3" height="6" stroke="none" fill="#f0902a" stroke-width="1" />
<polyline points="686,398 686,400.9 703,400.9 703,398" stroke="#ffffff" stroke-width="1" fill="none" />
<line x1="691" y1="400.5" x2="696" y2="400.5" stroke="#f0902a" stroke-width="3" stroke-dasharray="1.6 0.7 1 0.6 2 0.8" stroke-opacity="0.9"/>
<line x1="677.8" y1="413.3" x2="683.8" y2="413.3" stroke="#f4aaa8" stroke-width="3" stroke-dasharray="1.6 0.7 1 0.6 2 0.8" stroke-opacity="0.9"/>
<line x1="686" y1="413.3" x2="706" y2="413.3" stroke="#f4aaa8" stroke-width="4" stroke-dasharray="1.6 0.7 1 0.6 2 0.8" stroke-opacity="0.9"/>
<line x1="708" y1="413.3" x2="716" y2="413.3" stroke="#ffffff" stroke-width="3.125" stroke-dasharray="1.6 0.7 1 0.6 2 0.8" stroke-opacity="0.9"/>
<line x1="678" y1="419.2" x2="717" y2="419.2" stroke="#ffffff" stroke-width="1.4" />
<rect x="575.1" y="442.4" width="9.5" height="33.4" stroke="#e8e830" fill="#303030" stroke-width="1.2" />
<rect x="577" y="444" width="5.5" height="30" stroke="none" fill="url(#hatch2)" stroke-width="1" />
<circle cx="580" cy="455" r="1.8" stroke="#f0902a" fill="#f0902a" stroke-width="1"/>
<rect x="571.6" y="475.8" width="15.6" height="25.9" stroke="#e8e830" fill="#8a8a96" stroke-width="1" />
<line x1="571.6" y1="479" x2="587.2" y2="479" stroke="#202020" stroke-width="1.2" />
<line x1="574" y1="476" x2="574" y2="479" stroke="#202020" stroke-width="1" />
<line x1="579" y1="476" x2="579" y2="479" stroke="#202020" stroke-width="1" />
<line x1="584" y1="476" x2="584" y2="479" stroke="#202020" stroke-width="1" />
<line x1="571.6" y1="484" x2="587.2" y2="484" stroke="#202020" stroke-width="1.2" />
<line x1="576.5" y1="481" x2="576.5" y2="484" stroke="#202020" stroke-width="1" />
<line x1="581.5" y1="481" x2="581.5" y2="484" stroke="#202020" stroke-width="1" />
<line x1="586.5" y1="481" x2="586.5" y2="484" stroke="#202020" stroke-width="1" />
<line x1="571.6" y1="489" x2="587.2" y2="489" stroke="#202020" stroke-width="1.2" />
<line x1="574" y1="486" x2="574" y2="489" stroke="#202020" stroke-width="1" />
<line x1="579" y1="486" x2="579" y2="489" stroke="#202020" stroke-width="1" />
<line x1="584" y1="486" x2="584" y2="489" stroke="#202020" stroke-width="1" />
<line x1="571.6" y1="494" x2="587.2" y2="494" stroke="#202020" stroke-width="1.2" />
<line x1="576.5" y1="491" x2="576.5" y2="494" stroke="#202020" stroke-width="1" />
<line x1="581.5" y1="491" x2="581.5" y2="494" stroke="#202020" stroke-width="1" />
<line x1="586.5" y1="491" x2="586.5" y2="494" stroke="#202020" stroke-width="1" />
<line x1="571.6" y1="499" x2="587.2" y2="499" stroke="#202020" stroke-width="1.2" />
<line x1="574" y1="496" x2="574" y2="499" stroke="#202020" stroke-width="1" />
<line x1="579" y1="496" x2="579" y2="499" stroke="#202020" stroke-width="1" />
<line x1="584" y1="496" x2="584" y2="499" stroke="#202020" stroke-width="1" />
<rect x="570.8" y="502.5" width="18.1" height="6.1" stroke="#ffffff" fill="none" stroke-width="1" />
<line x1="574" y1="505" x2="584" y2="505" stroke="#ffffff" stroke-width="2.5" stroke-dasharray="1.6 0.7 1 0.6 2 0.8" stroke-opacity="0.9"/>
<polyline points="558.7,442.4 551,442.4 551,502.5 558.7,502.5" stroke="#ffffff" stroke-width="1" fill="none" />
<polyline points="595.8,442 603.6,442 603.6,474 595.8,474" stroke="#ffffff" stroke-width="1" fill="none" />
<line x1="552" y1="448" x2="555" y2="448" stroke="#ffffff" stroke-width="0.6" />
<line x1="552" y1="450" x2="555" y2="450" stroke="#ffffff" stroke-width="0.6" />
<line x1="552" y1="452" x2="555" y2="452" stroke="#ffffff" stroke-width="0.6" />
<line x1="552" y1="454" x2="555" y2="454" stroke="#ffffff" stroke-width="0.6" />
<line x1="552" y1="456" x2="555" y2="456" stroke="#ffffff" stroke-width="0.6" />
<line x1="599" y1="450" x2="602" y2="450" stroke="#ffffff" stroke-width="0.6" />
<line x1="599" y1="452" x2="602" y2="452" stroke="#ffffff" stroke-width="0.6" />
<line x1="599" y1="454" x2="602" y2="454" stroke="#ffffff" stroke-width="0.6" />
<line x1="599" y1="456" x2="602" y2="456" stroke="#ffffff" stroke-width="0.6" />
<line x1="599" y1="458" x2="602" y2="458" stroke="#ffffff" stroke-width="0.6" />
<rect x="552" y="471" width="7.6" height="1" stroke="none" fill="#ffffff" stroke-width="1" />
<rect x="563" y="470.5" width="12" height="1.5" stroke="none" fill="#ffffff" stroke-width="1" />
<rect x="549.5" y="472" width="2.5" height="3" stroke="none" fill="#f0902a" stroke-width="1" />
<rect x="549.5" y="485" width="2.5" height="3" stroke="none" fill="#f0902a" stroke-width="1" />
<line x1="544" y1="447.3" x2="576" y2="447.3" stroke="#2fd8e0" stroke-width="1" />
<polyline points="545,478.3 557,478.3 567.3,472" stroke="#2fd8e0" stroke-width="1" fill="none" />
<polyline points="545,492 557,492 571,488" stroke="#2fd8e0" stroke-width="1" fill="none" />
<line x1="515.5" y1="446" x2="537.5" y2="446" stroke="#f4aaa8" stroke-width="2.75" stroke-dasharray="1.6 0.7 1 0.6 2 0.8" stroke-opacity="0.9"/>
<line x1="515.5" y1="451" x2="522.5" y2="451" stroke="#f4aaa8" stroke-width="2.75" stroke-dasharray="1.6 0.7 1 0.6 2 0.8" stroke-opacity="0.9"/>
<line x1="523" y1="477" x2="538" y2="477" stroke="#f4aaa8" stroke-width="2.75" stroke-dasharray="1.6 0.7 1 0.6 2 0.8" stroke-opacity="0.9"/>
<line x1="516" y1="491" x2="537" y2="491" stroke="#f4aaa8" stroke-width="2.75" stroke-dasharray="1.6 0.7 1 0.6 2 0.8" stroke-opacity="0.9"/>
<line x1="547" y1="519" x2="551" y2="519" stroke="#ffffff" stroke-width="1.875" stroke-dasharray="1.6 0.7 1 0.6 2 0.8" stroke-opacity="0.9"/>
<line x1="552" y1="519" x2="566" y2="519" stroke="#f4aaa8" stroke-width="3.5" stroke-dasharray="1.6 0.7 1 0.6 2 0.8" stroke-opacity="0.9"/>
<line x1="568" y1="519" x2="576" y2="519" stroke="#f4aaa8" stroke-width="3.5" stroke-dasharray="1.6 0.7 1 0.6 2 0.8" stroke-opacity="0.9"/>
<line x1="586" y1="519" x2="592" y2="519" stroke="#ffffff" stroke-width="2.5" stroke-dasharray="1.6 0.7 1 0.6 2 0.8" stroke-opacity="0.9"/>
<line x1="546.6" y1="524.6" x2="597" y2="524.6" stroke="#ffffff" stroke-width="1.5" />
<line x1="706.6" y1="454.2" x2="706.6" y2="487" stroke="#2fd8e0" stroke-width="1" />
<line x1="706.6" y1="456.8" x2="739" y2="456.8" stroke="#2fd8e0" stroke-width="1" />
<line x1="706.6" y1="462" x2="739" y2="462" stroke="#2fd8e0" stroke-width="1" />
<line x1="706.6" y1="467.1" x2="739" y2="467.1" stroke="#2fd8e0" stroke-width="1" />
<line x1="706.6" y1="473.2" x2="742.4" y2="473.2" stroke="#2fd8e0" stroke-width="1" />
<line x1="709.6" y1="455" x2="719.6" y2="455" stroke="#f4aaa8" stroke-width="2.75" stroke-dasharray="1.6 0.7 1 0.6 2 0.8" stroke-opacity="0.9"/>
<line x1="709.6" y1="460.2" x2="721.6" y2="460.2" stroke="#f4aaa8" stroke-width="2.75" stroke-dasharray="1.6 0.7 1 0.6 2 0.8" stroke-opacity="0.9"/>
<line x1="709.6" y1="465.3" x2="721.6" y2="465.3" stroke="#f4aaa8" stroke-width="2.75" stroke-dasharray="1.6 0.7 1 0.6 2 0.8" stroke-opacity="0.9"/>
<line x1="709.6" y1="471.4" x2="734.6" y2="471.4" stroke="#f4aaa8" stroke-width="2.75" stroke-dasharray="1.6 0.7 1 0.6 2 0.8" stroke-opacity="0.9"/>
<rect x="692.3" y="479.2" width="31.1" height="2.6" stroke="none" fill="#e8e830" stroke-width="1" />
<line x1="692.3" y1="483" x2="723.4" y2="483" stroke="#e8e830" stroke-width="0.8" />
<path d="M693,484 L697,484 L699,488 L696,491 L693,490 Z M700,484 L705,484 L706,489 L701,490 Z M707,484 L712,484 L711,489 L707,488 Z M713,484 L719,484 L716,488 Z M697,492 L703,491 L705,496 L698,497 Z" stroke="#c0c0c8" fill="none" stroke-width="0.7" />
<path d="M692,496 L699,498 L705,497 L710,492 L718,487 L722,486" stroke="#e8e830" fill="none" stroke-width="0.8" />
<path d="M694,493 L694,498 L704,498" stroke="#ffffff" fill="none" stroke-width="0.8" />
<polyline points="692.3,479 692.3,476 694,476" stroke="#ffffff" stroke-width="0.8" fill="none" />
<rect x="691" y="472" width="2" height="4" stroke="none" fill="#f0902a" stroke-width="1" />
<rect x="685" y="477" width="3" height="3" stroke="none" fill="#f0902a" stroke-width="1" />
<line x1="669.9" y1="482.7" x2="692" y2="482.7" stroke="#ffffff" stroke-width="1" />
<line x1="674" y1="492.2" x2="692" y2="492.2" stroke="#e8e830" stroke-width="1" stroke-dasharray="2 1"/>
<line x1="670.7" y1="482" x2="670.7" y2="492" stroke="#ffffff" stroke-width="1" />
<line x1="669" y1="492.5" x2="674" y2="492.5" stroke="#ffffff" stroke-width="0.8" />
<rect x="668" y="485" width="2.5" height="3" stroke="none" fill="#f0902a" stroke-width="1" />
<line x1="682.8" y1="506" x2="686.8" y2="506" stroke="#ffffff" stroke-width="1.875" stroke-dasharray="1.6 0.7 1 0.6 2 0.8" stroke-opacity="0.9"/>
<line x1="688" y1="506" x2="702" y2="506" stroke="#f4aaa8" stroke-width="4" stroke-dasharray="1.6 0.7 1 0.6 2 0.8" stroke-opacity="0.9"/>
<line x1="704" y1="506" x2="709" y2="506" stroke="#f4aaa8" stroke-width="3" stroke-dasharray="1.6 0.7 1 0.6 2 0.8" stroke-opacity="0.9"/>
<line x1="711" y1="506" x2="720" y2="506" stroke="#ffffff" stroke-width="3.125" stroke-dasharray="1.6 0.7 1 0.6 2 0.8" stroke-opacity="0.9"/>
<line x1="682" y1="511.7" x2="724" y2="511.7" stroke="#ffffff" stroke-width="1.5" /></svg>
</body></html>
